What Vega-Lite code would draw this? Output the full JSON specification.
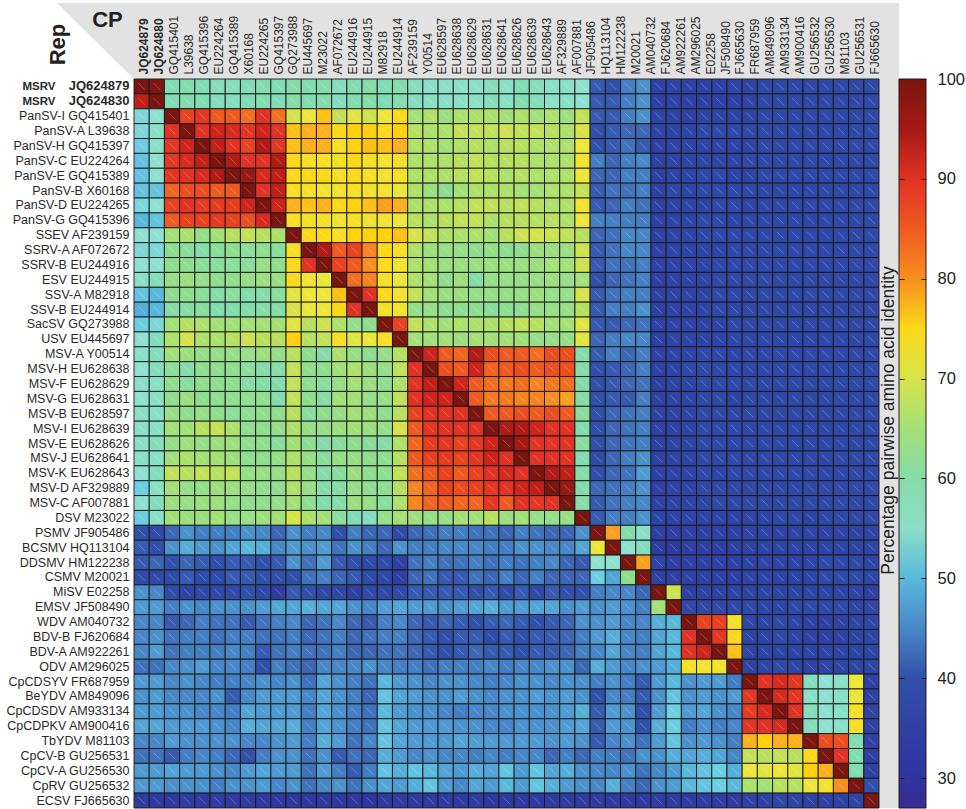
{"$schema":"https://vega.github.io/schema/vega-lite/v6.json","width":745,"height":729,"autosize":"none","padding":{"left":134,"top":79,"right":87,"bottom":1},"background":"white","config":{"view":{"stroke":null},"font":"Liberation Sans","axis":{"domain":false,"ticks":false,"grid":false,"labelFont":"Liberation Sans","titleFont":"Liberation Sans"}},"datasets":{"cells":[
{"r":0,"c":0,"v":100},{"r":0,"c":1,"v":99},{"r":0,"c":2,"v":57},{"r":0,"c":3,"v":58},{"r":0,"c":4,"v":57},{"r":0,"c":5,"v":56},{"r":0,"c":6,"v":56},{"r":0,"c":7,"v":57},{"r":0,"c":8,"v":58},{"r":0,"c":9,"v":57},{"r":0,"c":10,"v":60},{"r":0,"c":11,"v":58},{"r":0,"c":12,"v":58},{"r":0,"c":13,"v":56},{"r":0,"c":14,"v":58},{"r":0,"c":15,"v":60},{"r":0,"c":16,"v":57},{"r":0,"c":17,"v":58},{"r":0,"c":18,"v":56},{"r":0,"c":19,"v":55},{"r":0,"c":20,"v":55},{"r":0,"c":21,"v":55},{"r":0,"c":22,"v":55},{"r":0,"c":23,"v":56},{"r":0,"c":24,"v":55},{"r":0,"c":25,"v":57},{"r":0,"c":26,"v":56},{"r":0,"c":27,"v":55},{"r":0,"c":28,"v":55},{"r":0,"c":29,"v":54},{"r":0,"c":30,"v":41},{"r":0,"c":31,"v":40},{"r":0,"c":32,"v":44},{"r":0,"c":33,"v":46},{"r":0,"c":34,"v":36},{"r":0,"c":35,"v":37},{"r":0,"c":36,"v":36},{"r":0,"c":37,"v":36},{"r":0,"c":38,"v":36},{"r":0,"c":39,"v":37},{"r":0,"c":40,"v":37},{"r":0,"c":41,"v":38},{"r":0,"c":42,"v":38},{"r":0,"c":43,"v":38},{"r":0,"c":44,"v":38},{"r":0,"c":45,"v":38},{"r":0,"c":46,"v":38},{"r":0,"c":47,"v":38},{"r":0,"c":48,"v":38},
{"r":1,"c":0,"v":93},{"r":1,"c":1,"v":100},{"r":1,"c":2,"v":57},{"r":1,"c":3,"v":58},{"r":1,"c":4,"v":57},{"r":1,"c":5,"v":56},{"r":1,"c":6,"v":56},{"r":1,"c":7,"v":57},{"r":1,"c":8,"v":58},{"r":1,"c":9,"v":57},{"r":1,"c":10,"v":60},{"r":1,"c":11,"v":58},{"r":1,"c":12,"v":58},{"r":1,"c":13,"v":56},{"r":1,"c":14,"v":58},{"r":1,"c":15,"v":60},{"r":1,"c":16,"v":57},{"r":1,"c":17,"v":58},{"r":1,"c":18,"v":56},{"r":1,"c":19,"v":55},{"r":1,"c":20,"v":55},{"r":1,"c":21,"v":55},{"r":1,"c":22,"v":55},{"r":1,"c":23,"v":56},{"r":1,"c":24,"v":55},{"r":1,"c":25,"v":57},{"r":1,"c":26,"v":56},{"r":1,"c":27,"v":55},{"r":1,"c":28,"v":55},{"r":1,"c":29,"v":54},{"r":1,"c":30,"v":41},{"r":1,"c":31,"v":41},{"r":1,"c":32,"v":44},{"r":1,"c":33,"v":46},{"r":1,"c":34,"v":36},{"r":1,"c":35,"v":37},{"r":1,"c":36,"v":36},{"r":1,"c":37,"v":36},{"r":1,"c":38,"v":36},{"r":1,"c":39,"v":36},{"r":1,"c":40,"v":37},{"r":1,"c":41,"v":38},{"r":1,"c":42,"v":38},{"r":1,"c":43,"v":38},{"r":1,"c":44,"v":38},{"r":1,"c":45,"v":38},{"r":1,"c":46,"v":38},{"r":1,"c":47,"v":38},{"r":1,"c":48,"v":38},
{"r":2,"c":0,"v":53},{"r":2,"c":1,"v":54},{"r":2,"c":2,"v":100},{"r":2,"c":3,"v":87},{"r":2,"c":4,"v":89},{"r":2,"c":5,"v":85},{"r":2,"c":6,"v":85},{"r":2,"c":7,"v":83},{"r":2,"c":8,"v":90},{"r":2,"c":9,"v":83},{"r":2,"c":10,"v":70},{"r":2,"c":11,"v":72},{"r":2,"c":12,"v":77},{"r":2,"c":13,"v":68},{"r":2,"c":14,"v":71},{"r":2,"c":15,"v":69},{"r":2,"c":16,"v":72},{"r":2,"c":17,"v":75},{"r":2,"c":18,"v":65},{"r":2,"c":19,"v":66},{"r":2,"c":20,"v":64},{"r":2,"c":21,"v":66},{"r":2,"c":22,"v":66},{"r":2,"c":23,"v":66},{"r":2,"c":24,"v":65},{"r":2,"c":25,"v":66},{"r":2,"c":26,"v":65},{"r":2,"c":27,"v":66},{"r":2,"c":28,"v":64},{"r":2,"c":29,"v":68},{"r":2,"c":30,"v":41},{"r":2,"c":31,"v":41},{"r":2,"c":32,"v":44},{"r":2,"c":33,"v":46},{"r":2,"c":34,"v":37},{"r":2,"c":35,"v":37},{"r":2,"c":36,"v":36},{"r":2,"c":37,"v":37},{"r":2,"c":38,"v":37},{"r":2,"c":39,"v":37},{"r":2,"c":40,"v":37},{"r":2,"c":41,"v":38},{"r":2,"c":42,"v":38},{"r":2,"c":43,"v":38},{"r":2,"c":44,"v":38},{"r":2,"c":45,"v":38},{"r":2,"c":46,"v":38},{"r":2,"c":47,"v":38},{"r":2,"c":48,"v":38},
{"r":3,"c":0,"v":53},{"r":3,"c":1,"v":55},{"r":3,"c":2,"v":90},{"r":3,"c":3,"v":100},{"r":3,"c":4,"v":90},{"r":3,"c":5,"v":92},{"r":3,"c":6,"v":91},{"r":3,"c":7,"v":89},{"r":3,"c":8,"v":92},{"r":3,"c":9,"v":90},{"r":3,"c":10,"v":77},{"r":3,"c":11,"v":78},{"r":3,"c":12,"v":78},{"r":3,"c":13,"v":75},{"r":3,"c":14,"v":76},{"r":3,"c":15,"v":76},{"r":3,"c":16,"v":75},{"r":3,"c":17,"v":76},{"r":3,"c":18,"v":67},{"r":3,"c":19,"v":66},{"r":3,"c":20,"v":66},{"r":3,"c":21,"v":68},{"r":3,"c":22,"v":68},{"r":3,"c":23,"v":68},{"r":3,"c":24,"v":69},{"r":3,"c":25,"v":68},{"r":3,"c":26,"v":68},{"r":3,"c":27,"v":67},{"r":3,"c":28,"v":66},{"r":3,"c":29,"v":70},{"r":3,"c":30,"v":40},{"r":3,"c":31,"v":41},{"r":3,"c":32,"v":42},{"r":3,"c":33,"v":42},{"r":3,"c":34,"v":37},{"r":3,"c":35,"v":37},{"r":3,"c":36,"v":37},{"r":3,"c":37,"v":38},{"r":3,"c":38,"v":38},{"r":3,"c":39,"v":38},{"r":3,"c":40,"v":38},{"r":3,"c":41,"v":38},{"r":3,"c":42,"v":38},{"r":3,"c":43,"v":38},{"r":3,"c":44,"v":38},{"r":3,"c":45,"v":38},{"r":3,"c":46,"v":38},{"r":3,"c":47,"v":38},{"r":3,"c":48,"v":38},
{"r":4,"c":0,"v":52},{"r":4,"c":1,"v":55},{"r":4,"c":2,"v":89},{"r":4,"c":3,"v":92},{"r":4,"c":4,"v":100},{"r":4,"c":5,"v":93},{"r":4,"c":6,"v":90},{"r":4,"c":7,"v":87},{"r":4,"c":8,"v":94},{"r":4,"c":9,"v":89},{"r":4,"c":10,"v":77},{"r":4,"c":11,"v":78},{"r":4,"c":12,"v":78},{"r":4,"c":13,"v":74},{"r":4,"c":14,"v":76},{"r":4,"c":15,"v":77},{"r":4,"c":16,"v":77},{"r":4,"c":17,"v":78},{"r":4,"c":18,"v":66},{"r":4,"c":19,"v":66},{"r":4,"c":20,"v":65},{"r":4,"c":21,"v":66},{"r":4,"c":22,"v":67},{"r":4,"c":23,"v":66},{"r":4,"c":24,"v":67},{"r":4,"c":25,"v":67},{"r":4,"c":26,"v":66},{"r":4,"c":27,"v":66},{"r":4,"c":28,"v":66},{"r":4,"c":29,"v":72},{"r":4,"c":30,"v":40},{"r":4,"c":31,"v":41},{"r":4,"c":32,"v":43},{"r":4,"c":33,"v":41},{"r":4,"c":34,"v":36},{"r":4,"c":35,"v":37},{"r":4,"c":36,"v":37},{"r":4,"c":37,"v":37},{"r":4,"c":38,"v":37},{"r":4,"c":39,"v":37},{"r":4,"c":40,"v":37},{"r":4,"c":41,"v":38},{"r":4,"c":42,"v":38},{"r":4,"c":43,"v":38},{"r":4,"c":44,"v":38},{"r":4,"c":45,"v":38},{"r":4,"c":46,"v":38},{"r":4,"c":47,"v":38},{"r":4,"c":48,"v":38},
{"r":5,"c":0,"v":51},{"r":5,"c":1,"v":54},{"r":5,"c":2,"v":89},{"r":5,"c":3,"v":91},{"r":5,"c":4,"v":93},{"r":5,"c":5,"v":100},{"r":5,"c":6,"v":94},{"r":5,"c":7,"v":90},{"r":5,"c":8,"v":90},{"r":5,"c":9,"v":94},{"r":5,"c":10,"v":75},{"r":5,"c":11,"v":74},{"r":5,"c":12,"v":74},{"r":5,"c":13,"v":74},{"r":5,"c":14,"v":75},{"r":5,"c":15,"v":74},{"r":5,"c":16,"v":73},{"r":5,"c":17,"v":74},{"r":5,"c":18,"v":66},{"r":5,"c":19,"v":66},{"r":5,"c":20,"v":66},{"r":5,"c":21,"v":67},{"r":5,"c":22,"v":68},{"r":5,"c":23,"v":67},{"r":5,"c":24,"v":67},{"r":5,"c":25,"v":67},{"r":5,"c":26,"v":66},{"r":5,"c":27,"v":66},{"r":5,"c":28,"v":66},{"r":5,"c":29,"v":73},{"r":5,"c":30,"v":44},{"r":5,"c":31,"v":42},{"r":5,"c":32,"v":44},{"r":5,"c":33,"v":45},{"r":5,"c":34,"v":36},{"r":5,"c":35,"v":37},{"r":5,"c":36,"v":37},{"r":5,"c":37,"v":37},{"r":5,"c":38,"v":37},{"r":5,"c":39,"v":37},{"r":5,"c":40,"v":38},{"r":5,"c":41,"v":38},{"r":5,"c":42,"v":38},{"r":5,"c":43,"v":38},{"r":5,"c":44,"v":38},{"r":5,"c":45,"v":38},{"r":5,"c":46,"v":38},{"r":5,"c":47,"v":38},{"r":5,"c":48,"v":38},
{"r":6,"c":0,"v":51},{"r":6,"c":1,"v":54},{"r":6,"c":2,"v":89},{"r":6,"c":3,"v":90},{"r":6,"c":4,"v":91},{"r":6,"c":5,"v":94},{"r":6,"c":6,"v":100},{"r":6,"c":7,"v":96},{"r":6,"c":8,"v":91},{"r":6,"c":9,"v":93},{"r":6,"c":10,"v":75},{"r":6,"c":11,"v":75},{"r":6,"c":12,"v":75},{"r":6,"c":13,"v":74},{"r":6,"c":14,"v":75},{"r":6,"c":15,"v":74},{"r":6,"c":16,"v":73},{"r":6,"c":17,"v":74},{"r":6,"c":18,"v":66},{"r":6,"c":19,"v":66},{"r":6,"c":20,"v":66},{"r":6,"c":21,"v":67},{"r":6,"c":22,"v":68},{"r":6,"c":23,"v":67},{"r":6,"c":24,"v":66},{"r":6,"c":25,"v":67},{"r":6,"c":26,"v":66},{"r":6,"c":27,"v":66},{"r":6,"c":28,"v":66},{"r":6,"c":29,"v":72},{"r":6,"c":30,"v":42},{"r":6,"c":31,"v":42},{"r":6,"c":32,"v":44},{"r":6,"c":33,"v":44},{"r":6,"c":34,"v":36},{"r":6,"c":35,"v":37},{"r":6,"c":36,"v":37},{"r":6,"c":37,"v":38},{"r":6,"c":38,"v":38},{"r":6,"c":39,"v":37},{"r":6,"c":40,"v":37},{"r":6,"c":41,"v":38},{"r":6,"c":42,"v":38},{"r":6,"c":43,"v":38},{"r":6,"c":44,"v":38},{"r":6,"c":45,"v":38},{"r":6,"c":46,"v":38},{"r":6,"c":47,"v":38},{"r":6,"c":48,"v":38},
{"r":7,"c":0,"v":51},{"r":7,"c":1,"v":51},{"r":7,"c":2,"v":84},{"r":7,"c":3,"v":86},{"r":7,"c":4,"v":86},{"r":7,"c":5,"v":85},{"r":7,"c":6,"v":85},{"r":7,"c":7,"v":100},{"r":7,"c":8,"v":90},{"r":7,"c":9,"v":93},{"r":7,"c":10,"v":74},{"r":7,"c":11,"v":74},{"r":7,"c":12,"v":73},{"r":7,"c":13,"v":73},{"r":7,"c":14,"v":74},{"r":7,"c":15,"v":73},{"r":7,"c":16,"v":73},{"r":7,"c":17,"v":72},{"r":7,"c":18,"v":66},{"r":7,"c":19,"v":64},{"r":7,"c":20,"v":62},{"r":7,"c":21,"v":65},{"r":7,"c":22,"v":66},{"r":7,"c":23,"v":66},{"r":7,"c":24,"v":66},{"r":7,"c":25,"v":65},{"r":7,"c":26,"v":65},{"r":7,"c":27,"v":66},{"r":7,"c":28,"v":66},{"r":7,"c":29,"v":68},{"r":7,"c":30,"v":41},{"r":7,"c":31,"v":43},{"r":7,"c":32,"v":43},{"r":7,"c":33,"v":44},{"r":7,"c":34,"v":36},{"r":7,"c":35,"v":38},{"r":7,"c":36,"v":37},{"r":7,"c":37,"v":38},{"r":7,"c":38,"v":38},{"r":7,"c":39,"v":38},{"r":7,"c":40,"v":38},{"r":7,"c":41,"v":38},{"r":7,"c":42,"v":38},{"r":7,"c":43,"v":38},{"r":7,"c":44,"v":38},{"r":7,"c":45,"v":38},{"r":7,"c":46,"v":38},{"r":7,"c":47,"v":38},{"r":7,"c":48,"v":38},
{"r":8,"c":0,"v":53},{"r":8,"c":1,"v":54},{"r":8,"c":2,"v":87},{"r":8,"c":3,"v":90},{"r":8,"c":4,"v":88},{"r":8,"c":5,"v":88},{"r":8,"c":6,"v":88},{"r":8,"c":7,"v":92},{"r":8,"c":8,"v":100},{"r":8,"c":9,"v":92},{"r":8,"c":10,"v":78},{"r":8,"c":11,"v":77},{"r":8,"c":12,"v":78},{"r":8,"c":13,"v":75},{"r":8,"c":14,"v":76},{"r":8,"c":15,"v":77},{"r":8,"c":16,"v":79},{"r":8,"c":17,"v":78},{"r":8,"c":18,"v":66},{"r":8,"c":19,"v":66},{"r":8,"c":20,"v":66},{"r":8,"c":21,"v":67},{"r":8,"c":22,"v":68},{"r":8,"c":23,"v":68},{"r":8,"c":24,"v":67},{"r":8,"c":25,"v":68},{"r":8,"c":26,"v":67},{"r":8,"c":27,"v":66},{"r":8,"c":28,"v":66},{"r":8,"c":29,"v":73},{"r":8,"c":30,"v":41},{"r":8,"c":31,"v":42},{"r":8,"c":32,"v":44},{"r":8,"c":33,"v":43},{"r":8,"c":34,"v":36},{"r":8,"c":35,"v":37},{"r":8,"c":36,"v":37},{"r":8,"c":37,"v":37},{"r":8,"c":38,"v":38},{"r":8,"c":39,"v":38},{"r":8,"c":40,"v":37},{"r":8,"c":41,"v":38},{"r":8,"c":42,"v":38},{"r":8,"c":43,"v":38},{"r":8,"c":44,"v":38},{"r":8,"c":45,"v":38},{"r":8,"c":46,"v":38},{"r":8,"c":47,"v":38},{"r":8,"c":48,"v":38},
{"r":9,"c":0,"v":50},{"r":9,"c":1,"v":51},{"r":9,"c":2,"v":85},{"r":9,"c":3,"v":87},{"r":9,"c":4,"v":87},{"r":9,"c":5,"v":88},{"r":9,"c":6,"v":87},{"r":9,"c":7,"v":86},{"r":9,"c":8,"v":91},{"r":9,"c":9,"v":100},{"r":9,"c":10,"v":74},{"r":9,"c":11,"v":74},{"r":9,"c":12,"v":74},{"r":9,"c":13,"v":73},{"r":9,"c":14,"v":74},{"r":9,"c":15,"v":73},{"r":9,"c":16,"v":73},{"r":9,"c":17,"v":72},{"r":9,"c":18,"v":67},{"r":9,"c":19,"v":66},{"r":9,"c":20,"v":67},{"r":9,"c":21,"v":68},{"r":9,"c":22,"v":68},{"r":9,"c":23,"v":66},{"r":9,"c":24,"v":67},{"r":9,"c":25,"v":67},{"r":9,"c":26,"v":67},{"r":9,"c":27,"v":67},{"r":9,"c":28,"v":66},{"r":9,"c":29,"v":72},{"r":9,"c":30,"v":44},{"r":9,"c":31,"v":44},{"r":9,"c":32,"v":44},{"r":9,"c":33,"v":44},{"r":9,"c":34,"v":36},{"r":9,"c":35,"v":37},{"r":9,"c":36,"v":37},{"r":9,"c":37,"v":38},{"r":9,"c":38,"v":38},{"r":9,"c":39,"v":37},{"r":9,"c":40,"v":38},{"r":9,"c":41,"v":38},{"r":9,"c":42,"v":38},{"r":9,"c":43,"v":38},{"r":9,"c":44,"v":38},{"r":9,"c":45,"v":38},{"r":9,"c":46,"v":38},{"r":9,"c":47,"v":38},{"r":9,"c":48,"v":38},
{"r":10,"c":0,"v":54},{"r":10,"c":1,"v":54},{"r":10,"c":2,"v":65},{"r":10,"c":3,"v":66},{"r":10,"c":4,"v":63},{"r":10,"c":5,"v":65},{"r":10,"c":6,"v":67},{"r":10,"c":7,"v":68},{"r":10,"c":8,"v":67},{"r":10,"c":9,"v":66},{"r":10,"c":10,"v":100},{"r":10,"c":11,"v":75},{"r":10,"c":12,"v":75},{"r":10,"c":13,"v":74},{"r":10,"c":14,"v":76},{"r":10,"c":15,"v":76},{"r":10,"c":16,"v":76},{"r":10,"c":17,"v":77},{"r":10,"c":18,"v":70},{"r":10,"c":19,"v":68},{"r":10,"c":20,"v":66},{"r":10,"c":21,"v":66},{"r":10,"c":22,"v":66},{"r":10,"c":23,"v":65},{"r":10,"c":24,"v":67},{"r":10,"c":25,"v":69},{"r":10,"c":26,"v":70},{"r":10,"c":27,"v":69},{"r":10,"c":28,"v":68},{"r":10,"c":29,"v":67},{"r":10,"c":30,"v":42},{"r":10,"c":31,"v":43},{"r":10,"c":32,"v":45},{"r":10,"c":33,"v":45},{"r":10,"c":34,"v":36},{"r":10,"c":35,"v":37},{"r":10,"c":36,"v":37},{"r":10,"c":37,"v":38},{"r":10,"c":38,"v":38},{"r":10,"c":39,"v":38},{"r":10,"c":40,"v":38},{"r":10,"c":41,"v":38},{"r":10,"c":42,"v":38},{"r":10,"c":43,"v":38},{"r":10,"c":44,"v":38},{"r":10,"c":45,"v":38},{"r":10,"c":46,"v":38},{"r":10,"c":47,"v":38},{"r":10,"c":48,"v":38},
{"r":11,"c":0,"v":53},{"r":11,"c":1,"v":53},{"r":11,"c":2,"v":62},{"r":11,"c":3,"v":61},{"r":11,"c":4,"v":60},{"r":11,"c":5,"v":61},{"r":11,"c":6,"v":62},{"r":11,"c":7,"v":61},{"r":11,"c":8,"v":62},{"r":11,"c":9,"v":61},{"r":11,"c":10,"v":74},{"r":11,"c":11,"v":100},{"r":11,"c":12,"v":94},{"r":11,"c":13,"v":85},{"r":11,"c":14,"v":87},{"r":11,"c":15,"v":81},{"r":11,"c":16,"v":75},{"r":11,"c":17,"v":74},{"r":11,"c":18,"v":66},{"r":11,"c":19,"v":64},{"r":11,"c":20,"v":63},{"r":11,"c":21,"v":63},{"r":11,"c":22,"v":62},{"r":11,"c":23,"v":63},{"r":11,"c":24,"v":62},{"r":11,"c":25,"v":62},{"r":11,"c":26,"v":64},{"r":11,"c":27,"v":64},{"r":11,"c":28,"v":64},{"r":11,"c":29,"v":69},{"r":11,"c":30,"v":41},{"r":11,"c":31,"v":43},{"r":11,"c":32,"v":45},{"r":11,"c":33,"v":45},{"r":11,"c":34,"v":36},{"r":11,"c":35,"v":37},{"r":11,"c":36,"v":37},{"r":11,"c":37,"v":37},{"r":11,"c":38,"v":37},{"r":11,"c":39,"v":38},{"r":11,"c":40,"v":38},{"r":11,"c":41,"v":38},{"r":11,"c":42,"v":38},{"r":11,"c":43,"v":38},{"r":11,"c":44,"v":38},{"r":11,"c":45,"v":38},{"r":11,"c":46,"v":38},{"r":11,"c":47,"v":38},{"r":11,"c":48,"v":38},
{"r":12,"c":0,"v":54},{"r":12,"c":1,"v":54},{"r":12,"c":2,"v":62},{"r":12,"c":3,"v":62},{"r":12,"c":4,"v":61},{"r":12,"c":5,"v":61},{"r":12,"c":6,"v":61},{"r":12,"c":7,"v":61},{"r":12,"c":8,"v":63},{"r":12,"c":9,"v":62},{"r":12,"c":10,"v":75},{"r":12,"c":11,"v":90},{"r":12,"c":12,"v":100},{"r":12,"c":13,"v":87},{"r":12,"c":14,"v":85},{"r":12,"c":15,"v":80},{"r":12,"c":16,"v":75},{"r":12,"c":17,"v":73},{"r":12,"c":18,"v":66},{"r":12,"c":19,"v":65},{"r":12,"c":20,"v":64},{"r":12,"c":21,"v":64},{"r":12,"c":22,"v":64},{"r":12,"c":23,"v":64},{"r":12,"c":24,"v":64},{"r":12,"c":25,"v":64},{"r":12,"c":26,"v":64},{"r":12,"c":27,"v":65},{"r":12,"c":28,"v":65},{"r":12,"c":29,"v":69},{"r":12,"c":30,"v":41},{"r":12,"c":31,"v":43},{"r":12,"c":32,"v":43},{"r":12,"c":33,"v":44},{"r":12,"c":34,"v":36},{"r":12,"c":35,"v":37},{"r":12,"c":36,"v":37},{"r":12,"c":37,"v":37},{"r":12,"c":38,"v":38},{"r":12,"c":39,"v":38},{"r":12,"c":40,"v":38},{"r":12,"c":41,"v":38},{"r":12,"c":42,"v":38},{"r":12,"c":43,"v":38},{"r":12,"c":44,"v":38},{"r":12,"c":45,"v":38},{"r":12,"c":46,"v":38},{"r":12,"c":47,"v":38},{"r":12,"c":48,"v":38},
{"r":13,"c":0,"v":55},{"r":13,"c":1,"v":56},{"r":13,"c":2,"v":63},{"r":13,"c":3,"v":64},{"r":13,"c":4,"v":63},{"r":13,"c":5,"v":62},{"r":13,"c":6,"v":62},{"r":13,"c":7,"v":63},{"r":13,"c":8,"v":64},{"r":13,"c":9,"v":63},{"r":13,"c":10,"v":75},{"r":13,"c":11,"v":73},{"r":13,"c":12,"v":72},{"r":13,"c":13,"v":100},{"r":13,"c":14,"v":83},{"r":13,"c":15,"v":81},{"r":13,"c":16,"v":74},{"r":13,"c":17,"v":72},{"r":13,"c":18,"v":66},{"r":13,"c":19,"v":65},{"r":13,"c":20,"v":62},{"r":13,"c":21,"v":64},{"r":13,"c":22,"v":60},{"r":13,"c":23,"v":63},{"r":13,"c":24,"v":63},{"r":13,"c":25,"v":63},{"r":13,"c":26,"v":63},{"r":13,"c":27,"v":64},{"r":13,"c":28,"v":63},{"r":13,"c":29,"v":65},{"r":13,"c":30,"v":40},{"r":13,"c":31,"v":42},{"r":13,"c":32,"v":43},{"r":13,"c":33,"v":44},{"r":13,"c":34,"v":36},{"r":13,"c":35,"v":37},{"r":13,"c":36,"v":37},{"r":13,"c":37,"v":37},{"r":13,"c":38,"v":38},{"r":13,"c":39,"v":38},{"r":13,"c":40,"v":38},{"r":13,"c":41,"v":38},{"r":13,"c":42,"v":38},{"r":13,"c":43,"v":38},{"r":13,"c":44,"v":38},{"r":13,"c":45,"v":38},{"r":13,"c":46,"v":38},{"r":13,"c":47,"v":38},{"r":13,"c":48,"v":38},
{"r":14,"c":0,"v":51},{"r":14,"c":1,"v":50},{"r":14,"c":2,"v":62},{"r":14,"c":3,"v":62},{"r":14,"c":4,"v":61},{"r":14,"c":5,"v":60},{"r":14,"c":6,"v":61},{"r":14,"c":7,"v":59},{"r":14,"c":8,"v":60},{"r":14,"c":9,"v":61},{"r":14,"c":10,"v":71},{"r":14,"c":11,"v":72},{"r":14,"c":12,"v":72},{"r":14,"c":13,"v":77},{"r":14,"c":14,"v":100},{"r":14,"c":15,"v":90},{"r":14,"c":16,"v":75},{"r":14,"c":17,"v":73},{"r":14,"c":18,"v":68},{"r":14,"c":19,"v":65},{"r":14,"c":20,"v":64},{"r":14,"c":21,"v":64},{"r":14,"c":22,"v":63},{"r":14,"c":23,"v":63},{"r":14,"c":24,"v":63},{"r":14,"c":25,"v":63},{"r":14,"c":26,"v":64},{"r":14,"c":27,"v":63},{"r":14,"c":28,"v":63},{"r":14,"c":29,"v":70},{"r":14,"c":30,"v":41},{"r":14,"c":31,"v":43},{"r":14,"c":32,"v":44},{"r":14,"c":33,"v":44},{"r":14,"c":34,"v":36},{"r":14,"c":35,"v":37},{"r":14,"c":36,"v":37},{"r":14,"c":37,"v":37},{"r":14,"c":38,"v":38},{"r":14,"c":39,"v":38},{"r":14,"c":40,"v":38},{"r":14,"c":41,"v":38},{"r":14,"c":42,"v":38},{"r":14,"c":43,"v":38},{"r":14,"c":44,"v":38},{"r":14,"c":45,"v":38},{"r":14,"c":46,"v":38},{"r":14,"c":47,"v":38},{"r":14,"c":48,"v":38},
{"r":15,"c":0,"v":49},{"r":15,"c":1,"v":50},{"r":15,"c":2,"v":60},{"r":15,"c":3,"v":60},{"r":15,"c":4,"v":61},{"r":15,"c":5,"v":59},{"r":15,"c":6,"v":59},{"r":15,"c":7,"v":59},{"r":15,"c":8,"v":60},{"r":15,"c":9,"v":60},{"r":15,"c":10,"v":70},{"r":15,"c":11,"v":72},{"r":15,"c":12,"v":72},{"r":15,"c":13,"v":75},{"r":15,"c":14,"v":90},{"r":15,"c":15,"v":100},{"r":15,"c":16,"v":74},{"r":15,"c":17,"v":73},{"r":15,"c":18,"v":63},{"r":15,"c":19,"v":63},{"r":15,"c":20,"v":62},{"r":15,"c":21,"v":62},{"r":15,"c":22,"v":62},{"r":15,"c":23,"v":61},{"r":15,"c":24,"v":62},{"r":15,"c":25,"v":62},{"r":15,"c":26,"v":63},{"r":15,"c":27,"v":63},{"r":15,"c":28,"v":63},{"r":15,"c":29,"v":67},{"r":15,"c":30,"v":41},{"r":15,"c":31,"v":44},{"r":15,"c":32,"v":44},{"r":15,"c":33,"v":46},{"r":15,"c":34,"v":36},{"r":15,"c":35,"v":37},{"r":15,"c":36,"v":37},{"r":15,"c":37,"v":37},{"r":15,"c":38,"v":38},{"r":15,"c":39,"v":38},{"r":15,"c":40,"v":38},{"r":15,"c":41,"v":38},{"r":15,"c":42,"v":38},{"r":15,"c":43,"v":38},{"r":15,"c":44,"v":38},{"r":15,"c":45,"v":38},{"r":15,"c":46,"v":38},{"r":15,"c":47,"v":38},{"r":15,"c":48,"v":38},
{"r":16,"c":0,"v":52},{"r":16,"c":1,"v":53},{"r":16,"c":2,"v":65},{"r":16,"c":3,"v":67},{"r":16,"c":4,"v":66},{"r":16,"c":5,"v":65},{"r":16,"c":6,"v":65},{"r":16,"c":7,"v":65},{"r":16,"c":8,"v":65},{"r":16,"c":9,"v":65},{"r":16,"c":10,"v":71},{"r":16,"c":11,"v":67},{"r":16,"c":12,"v":69},{"r":16,"c":13,"v":66},{"r":16,"c":14,"v":63},{"r":16,"c":15,"v":62},{"r":16,"c":16,"v":100},{"r":16,"c":17,"v":87},{"r":16,"c":18,"v":68},{"r":16,"c":19,"v":66},{"r":16,"c":20,"v":65},{"r":16,"c":21,"v":66},{"r":16,"c":22,"v":66},{"r":16,"c":23,"v":66},{"r":16,"c":24,"v":67},{"r":16,"c":25,"v":68},{"r":16,"c":26,"v":67},{"r":16,"c":27,"v":65},{"r":16,"c":28,"v":65},{"r":16,"c":29,"v":71},{"r":16,"c":30,"v":41},{"r":16,"c":31,"v":41},{"r":16,"c":32,"v":42},{"r":16,"c":33,"v":43},{"r":16,"c":34,"v":36},{"r":16,"c":35,"v":37},{"r":16,"c":36,"v":37},{"r":16,"c":37,"v":37},{"r":16,"c":38,"v":37},{"r":16,"c":39,"v":38},{"r":16,"c":40,"v":38},{"r":16,"c":41,"v":38},{"r":16,"c":42,"v":38},{"r":16,"c":43,"v":38},{"r":16,"c":44,"v":38},{"r":16,"c":45,"v":38},{"r":16,"c":46,"v":38},{"r":16,"c":47,"v":38},{"r":16,"c":48,"v":38},
{"r":17,"c":0,"v":54},{"r":17,"c":1,"v":56},{"r":17,"c":2,"v":66},{"r":17,"c":3,"v":70},{"r":17,"c":4,"v":66},{"r":17,"c":5,"v":66},{"r":17,"c":6,"v":67},{"r":17,"c":7,"v":69},{"r":17,"c":8,"v":67},{"r":17,"c":9,"v":67},{"r":17,"c":10,"v":76},{"r":17,"c":11,"v":67},{"r":17,"c":12,"v":68},{"r":17,"c":13,"v":74},{"r":17,"c":14,"v":71},{"r":17,"c":15,"v":72},{"r":17,"c":16,"v":74},{"r":17,"c":17,"v":100},{"r":17,"c":18,"v":65},{"r":17,"c":19,"v":65},{"r":17,"c":20,"v":65},{"r":17,"c":21,"v":64},{"r":17,"c":22,"v":65},{"r":17,"c":23,"v":65},{"r":17,"c":24,"v":65},{"r":17,"c":25,"v":65},{"r":17,"c":26,"v":63},{"r":17,"c":27,"v":63},{"r":17,"c":28,"v":63},{"r":17,"c":29,"v":71},{"r":17,"c":30,"v":42},{"r":17,"c":31,"v":44},{"r":17,"c":32,"v":45},{"r":17,"c":33,"v":45},{"r":17,"c":34,"v":36},{"r":17,"c":35,"v":37},{"r":17,"c":36,"v":37},{"r":17,"c":37,"v":37},{"r":17,"c":38,"v":37},{"r":17,"c":39,"v":38},{"r":17,"c":40,"v":38},{"r":17,"c":41,"v":38},{"r":17,"c":42,"v":38},{"r":17,"c":43,"v":38},{"r":17,"c":44,"v":38},{"r":17,"c":45,"v":38},{"r":17,"c":46,"v":38},{"r":17,"c":47,"v":38},{"r":17,"c":48,"v":38},
{"r":18,"c":0,"v":55},{"r":18,"c":1,"v":56},{"r":18,"c":2,"v":65},{"r":18,"c":3,"v":64},{"r":18,"c":4,"v":63},{"r":18,"c":5,"v":63},{"r":18,"c":6,"v":63},{"r":18,"c":7,"v":63},{"r":18,"c":8,"v":64},{"r":18,"c":9,"v":63},{"r":18,"c":10,"v":67},{"r":18,"c":11,"v":62},{"r":18,"c":12,"v":60},{"r":18,"c":13,"v":66},{"r":18,"c":14,"v":63},{"r":18,"c":15,"v":62},{"r":18,"c":16,"v":63},{"r":18,"c":17,"v":67},{"r":18,"c":18,"v":100},{"r":18,"c":19,"v":92},{"r":18,"c":20,"v":85},{"r":18,"c":21,"v":84},{"r":18,"c":22,"v":94},{"r":18,"c":23,"v":86},{"r":18,"c":24,"v":85},{"r":18,"c":25,"v":85},{"r":18,"c":26,"v":83},{"r":18,"c":27,"v":86},{"r":18,"c":28,"v":86},{"r":18,"c":29,"v":60},{"r":18,"c":30,"v":41},{"r":18,"c":31,"v":44},{"r":18,"c":32,"v":42},{"r":18,"c":33,"v":44},{"r":18,"c":34,"v":36},{"r":18,"c":35,"v":37},{"r":18,"c":36,"v":37},{"r":18,"c":37,"v":38},{"r":18,"c":38,"v":38},{"r":18,"c":39,"v":37},{"r":18,"c":40,"v":38},{"r":18,"c":41,"v":38},{"r":18,"c":42,"v":38},{"r":18,"c":43,"v":38},{"r":18,"c":44,"v":38},{"r":18,"c":45,"v":38},{"r":18,"c":46,"v":38},{"r":18,"c":47,"v":38},{"r":18,"c":48,"v":38},
{"r":19,"c":0,"v":54},{"r":19,"c":1,"v":56},{"r":19,"c":2,"v":61},{"r":19,"c":3,"v":60},{"r":19,"c":4,"v":62},{"r":19,"c":5,"v":62},{"r":19,"c":6,"v":62},{"r":19,"c":7,"v":61},{"r":19,"c":8,"v":60},{"r":19,"c":9,"v":60},{"r":19,"c":10,"v":68},{"r":19,"c":11,"v":62},{"r":19,"c":12,"v":62},{"r":19,"c":13,"v":65},{"r":19,"c":14,"v":66},{"r":19,"c":15,"v":64},{"r":19,"c":16,"v":63},{"r":19,"c":17,"v":68},{"r":19,"c":18,"v":90},{"r":19,"c":19,"v":100},{"r":19,"c":20,"v":86},{"r":19,"c":21,"v":85},{"r":19,"c":22,"v":92},{"r":19,"c":23,"v":84},{"r":19,"c":24,"v":85},{"r":19,"c":25,"v":86},{"r":19,"c":26,"v":85},{"r":19,"c":27,"v":86},{"r":19,"c":28,"v":86},{"r":19,"c":29,"v":60},{"r":19,"c":30,"v":40},{"r":19,"c":31,"v":41},{"r":19,"c":32,"v":42},{"r":19,"c":33,"v":44},{"r":19,"c":34,"v":36},{"r":19,"c":35,"v":37},{"r":19,"c":36,"v":38},{"r":19,"c":37,"v":38},{"r":19,"c":38,"v":38},{"r":19,"c":39,"v":38},{"r":19,"c":40,"v":38},{"r":19,"c":41,"v":38},{"r":19,"c":42,"v":38},{"r":19,"c":43,"v":38},{"r":19,"c":44,"v":38},{"r":19,"c":45,"v":38},{"r":19,"c":46,"v":38},{"r":19,"c":47,"v":38},{"r":19,"c":48,"v":38},
{"r":20,"c":0,"v":55},{"r":20,"c":1,"v":55},{"r":20,"c":2,"v":62},{"r":20,"c":3,"v":61},{"r":20,"c":4,"v":62},{"r":20,"c":5,"v":62},{"r":20,"c":6,"v":62},{"r":20,"c":7,"v":60},{"r":20,"c":8,"v":60},{"r":20,"c":9,"v":58},{"r":20,"c":10,"v":68},{"r":20,"c":11,"v":62},{"r":20,"c":12,"v":61},{"r":20,"c":13,"v":63},{"r":20,"c":14,"v":65},{"r":20,"c":15,"v":64},{"r":20,"c":16,"v":62},{"r":20,"c":17,"v":66},{"r":20,"c":18,"v":90},{"r":20,"c":19,"v":93},{"r":20,"c":20,"v":100},{"r":20,"c":21,"v":92},{"r":20,"c":22,"v":85},{"r":20,"c":23,"v":83},{"r":20,"c":24,"v":82},{"r":20,"c":25,"v":83},{"r":20,"c":26,"v":81},{"r":20,"c":27,"v":82},{"r":20,"c":28,"v":83},{"r":20,"c":29,"v":59},{"r":20,"c":30,"v":40},{"r":20,"c":31,"v":41},{"r":20,"c":32,"v":42},{"r":20,"c":33,"v":43},{"r":20,"c":34,"v":36},{"r":20,"c":35,"v":37},{"r":20,"c":36,"v":37},{"r":20,"c":37,"v":38},{"r":20,"c":38,"v":38},{"r":20,"c":39,"v":38},{"r":20,"c":40,"v":38},{"r":20,"c":41,"v":38},{"r":20,"c":42,"v":38},{"r":20,"c":43,"v":38},{"r":20,"c":44,"v":38},{"r":20,"c":45,"v":38},{"r":20,"c":46,"v":38},{"r":20,"c":47,"v":38},{"r":20,"c":48,"v":38},
{"r":21,"c":0,"v":54},{"r":21,"c":1,"v":55},{"r":21,"c":2,"v":62},{"r":21,"c":3,"v":64},{"r":21,"c":4,"v":62},{"r":21,"c":5,"v":62},{"r":21,"c":6,"v":62},{"r":21,"c":7,"v":62},{"r":21,"c":8,"v":62},{"r":21,"c":9,"v":59},{"r":21,"c":10,"v":68},{"r":21,"c":11,"v":62},{"r":21,"c":12,"v":60},{"r":21,"c":13,"v":65},{"r":21,"c":14,"v":65},{"r":21,"c":15,"v":63},{"r":21,"c":16,"v":63},{"r":21,"c":17,"v":68},{"r":21,"c":18,"v":90},{"r":21,"c":19,"v":92},{"r":21,"c":20,"v":92},{"r":21,"c":21,"v":100},{"r":21,"c":22,"v":85},{"r":21,"c":23,"v":82},{"r":21,"c":24,"v":82},{"r":21,"c":25,"v":81},{"r":21,"c":26,"v":81},{"r":21,"c":27,"v":80},{"r":21,"c":28,"v":79},{"r":21,"c":29,"v":60},{"r":21,"c":30,"v":40},{"r":21,"c":31,"v":41},{"r":21,"c":32,"v":41},{"r":21,"c":33,"v":44},{"r":21,"c":34,"v":36},{"r":21,"c":35,"v":37},{"r":21,"c":36,"v":37},{"r":21,"c":37,"v":38},{"r":21,"c":38,"v":38},{"r":21,"c":39,"v":37},{"r":21,"c":40,"v":38},{"r":21,"c":41,"v":38},{"r":21,"c":42,"v":38},{"r":21,"c":43,"v":38},{"r":21,"c":44,"v":38},{"r":21,"c":45,"v":38},{"r":21,"c":46,"v":38},{"r":21,"c":47,"v":38},{"r":21,"c":48,"v":38},
{"r":22,"c":0,"v":55},{"r":22,"c":1,"v":55},{"r":22,"c":2,"v":63},{"r":22,"c":3,"v":62},{"r":22,"c":4,"v":63},{"r":22,"c":5,"v":62},{"r":22,"c":6,"v":61},{"r":22,"c":7,"v":62},{"r":22,"c":8,"v":62},{"r":22,"c":9,"v":62},{"r":22,"c":10,"v":67},{"r":22,"c":11,"v":61},{"r":22,"c":12,"v":62},{"r":22,"c":13,"v":63},{"r":22,"c":14,"v":65},{"r":22,"c":15,"v":64},{"r":22,"c":16,"v":62},{"r":22,"c":17,"v":67},{"r":22,"c":18,"v":87},{"r":22,"c":19,"v":90},{"r":22,"c":20,"v":90},{"r":22,"c":21,"v":90},{"r":22,"c":22,"v":100},{"r":22,"c":23,"v":85},{"r":22,"c":24,"v":85},{"r":22,"c":25,"v":86},{"r":22,"c":26,"v":85},{"r":22,"c":27,"v":86},{"r":22,"c":28,"v":85},{"r":22,"c":29,"v":61},{"r":22,"c":30,"v":40},{"r":22,"c":31,"v":42},{"r":22,"c":32,"v":43},{"r":22,"c":33,"v":44},{"r":22,"c":34,"v":37},{"r":22,"c":35,"v":37},{"r":22,"c":36,"v":37},{"r":22,"c":37,"v":38},{"r":22,"c":38,"v":38},{"r":22,"c":39,"v":38},{"r":22,"c":40,"v":38},{"r":22,"c":41,"v":38},{"r":22,"c":42,"v":38},{"r":22,"c":43,"v":38},{"r":22,"c":44,"v":38},{"r":22,"c":45,"v":38},{"r":22,"c":46,"v":38},{"r":22,"c":47,"v":38},{"r":22,"c":48,"v":38},
{"r":23,"c":0,"v":55},{"r":23,"c":1,"v":55},{"r":23,"c":2,"v":65},{"r":23,"c":3,"v":65},{"r":23,"c":4,"v":67},{"r":23,"c":5,"v":68},{"r":23,"c":6,"v":66},{"r":23,"c":7,"v":62},{"r":23,"c":8,"v":62},{"r":23,"c":9,"v":63},{"r":23,"c":10,"v":66},{"r":23,"c":11,"v":63},{"r":23,"c":12,"v":63},{"r":23,"c":13,"v":64},{"r":23,"c":14,"v":65},{"r":23,"c":15,"v":64},{"r":23,"c":16,"v":63},{"r":23,"c":17,"v":70},{"r":23,"c":18,"v":85},{"r":23,"c":19,"v":89},{"r":23,"c":20,"v":90},{"r":23,"c":21,"v":90},{"r":23,"c":22,"v":90},{"r":23,"c":23,"v":100},{"r":23,"c":24,"v":94},{"r":23,"c":25,"v":94},{"r":23,"c":26,"v":92},{"r":23,"c":27,"v":90},{"r":23,"c":28,"v":90},{"r":23,"c":29,"v":58},{"r":23,"c":30,"v":40},{"r":23,"c":31,"v":42},{"r":23,"c":32,"v":43},{"r":23,"c":33,"v":44},{"r":23,"c":34,"v":36},{"r":23,"c":35,"v":37},{"r":23,"c":36,"v":37},{"r":23,"c":37,"v":38},{"r":23,"c":38,"v":38},{"r":23,"c":39,"v":38},{"r":23,"c":40,"v":38},{"r":23,"c":41,"v":38},{"r":23,"c":42,"v":38},{"r":23,"c":43,"v":38},{"r":23,"c":44,"v":38},{"r":23,"c":45,"v":38},{"r":23,"c":46,"v":38},{"r":23,"c":47,"v":38},{"r":23,"c":48,"v":38},
{"r":24,"c":0,"v":55},{"r":24,"c":1,"v":56},{"r":24,"c":2,"v":63},{"r":24,"c":3,"v":64},{"r":24,"c":4,"v":63},{"r":24,"c":5,"v":64},{"r":24,"c":6,"v":64},{"r":24,"c":7,"v":62},{"r":24,"c":8,"v":62},{"r":24,"c":9,"v":61},{"r":24,"c":10,"v":65},{"r":24,"c":11,"v":62},{"r":24,"c":12,"v":60},{"r":24,"c":13,"v":61},{"r":24,"c":14,"v":62},{"r":24,"c":15,"v":61},{"r":24,"c":16,"v":60},{"r":24,"c":17,"v":66},{"r":24,"c":18,"v":84},{"r":24,"c":19,"v":88},{"r":24,"c":20,"v":89},{"r":24,"c":21,"v":87},{"r":24,"c":22,"v":89},{"r":24,"c":23,"v":92},{"r":24,"c":24,"v":100},{"r":24,"c":25,"v":95},{"r":24,"c":26,"v":90},{"r":24,"c":27,"v":90},{"r":24,"c":28,"v":90},{"r":24,"c":29,"v":61},{"r":24,"c":30,"v":40},{"r":24,"c":31,"v":42},{"r":24,"c":32,"v":43},{"r":24,"c":33,"v":44},{"r":24,"c":34,"v":36},{"r":24,"c":35,"v":37},{"r":24,"c":36,"v":37},{"r":24,"c":37,"v":38},{"r":24,"c":38,"v":38},{"r":24,"c":39,"v":38},{"r":24,"c":40,"v":38},{"r":24,"c":41,"v":38},{"r":24,"c":42,"v":38},{"r":24,"c":43,"v":38},{"r":24,"c":44,"v":38},{"r":24,"c":45,"v":38},{"r":24,"c":46,"v":38},{"r":24,"c":47,"v":38},{"r":24,"c":48,"v":38},
{"r":25,"c":0,"v":55},{"r":25,"c":1,"v":55},{"r":25,"c":2,"v":65},{"r":25,"c":3,"v":66},{"r":25,"c":4,"v":65},{"r":25,"c":5,"v":65},{"r":25,"c":6,"v":64},{"r":25,"c":7,"v":62},{"r":25,"c":8,"v":62},{"r":25,"c":9,"v":63},{"r":25,"c":10,"v":66},{"r":25,"c":11,"v":63},{"r":25,"c":12,"v":61},{"r":25,"c":13,"v":63},{"r":25,"c":14,"v":63},{"r":25,"c":15,"v":62},{"r":25,"c":16,"v":62},{"r":25,"c":17,"v":67},{"r":25,"c":18,"v":85},{"r":25,"c":19,"v":87},{"r":25,"c":20,"v":88},{"r":25,"c":21,"v":87},{"r":25,"c":22,"v":89},{"r":25,"c":23,"v":92},{"r":25,"c":24,"v":90},{"r":25,"c":25,"v":100},{"r":25,"c":26,"v":90},{"r":25,"c":27,"v":90},{"r":25,"c":28,"v":90},{"r":25,"c":29,"v":58},{"r":25,"c":30,"v":39},{"r":25,"c":31,"v":42},{"r":25,"c":32,"v":44},{"r":25,"c":33,"v":46},{"r":25,"c":34,"v":36},{"r":25,"c":35,"v":37},{"r":25,"c":36,"v":37},{"r":25,"c":37,"v":38},{"r":25,"c":38,"v":38},{"r":25,"c":39,"v":38},{"r":25,"c":40,"v":38},{"r":25,"c":41,"v":38},{"r":25,"c":42,"v":38},{"r":25,"c":43,"v":38},{"r":25,"c":44,"v":38},{"r":25,"c":45,"v":38},{"r":25,"c":46,"v":38},{"r":25,"c":47,"v":38},{"r":25,"c":48,"v":38},
{"r":26,"c":0,"v":54},{"r":26,"c":1,"v":56},{"r":26,"c":2,"v":68},{"r":26,"c":3,"v":67},{"r":26,"c":4,"v":68},{"r":26,"c":5,"v":67},{"r":26,"c":6,"v":68},{"r":26,"c":7,"v":63},{"r":26,"c":8,"v":63},{"r":26,"c":9,"v":63},{"r":26,"c":10,"v":67},{"r":26,"c":11,"v":63},{"r":26,"c":12,"v":60},{"r":26,"c":13,"v":61},{"r":26,"c":14,"v":64},{"r":26,"c":15,"v":62},{"r":26,"c":16,"v":62},{"r":26,"c":17,"v":68},{"r":26,"c":18,"v":83},{"r":26,"c":19,"v":85},{"r":26,"c":20,"v":87},{"r":26,"c":21,"v":85},{"r":26,"c":22,"v":87},{"r":26,"c":23,"v":90},{"r":26,"c":24,"v":91},{"r":26,"c":25,"v":90},{"r":26,"c":26,"v":100},{"r":26,"c":27,"v":94},{"r":26,"c":28,"v":93},{"r":26,"c":29,"v":60},{"r":26,"c":30,"v":40},{"r":26,"c":31,"v":42},{"r":26,"c":32,"v":43},{"r":26,"c":33,"v":47},{"r":26,"c":34,"v":36},{"r":26,"c":35,"v":37},{"r":26,"c":36,"v":37},{"r":26,"c":37,"v":38},{"r":26,"c":38,"v":37},{"r":26,"c":39,"v":38},{"r":26,"c":40,"v":38},{"r":26,"c":41,"v":38},{"r":26,"c":42,"v":38},{"r":26,"c":43,"v":38},{"r":26,"c":44,"v":38},{"r":26,"c":45,"v":38},{"r":26,"c":46,"v":38},{"r":26,"c":47,"v":38},{"r":26,"c":48,"v":38},
{"r":27,"c":0,"v":52},{"r":27,"c":1,"v":55},{"r":27,"c":2,"v":65},{"r":27,"c":3,"v":63},{"r":27,"c":4,"v":63},{"r":27,"c":5,"v":64},{"r":27,"c":6,"v":64},{"r":27,"c":7,"v":63},{"r":27,"c":8,"v":62},{"r":27,"c":9,"v":62},{"r":27,"c":10,"v":66},{"r":27,"c":11,"v":63},{"r":27,"c":12,"v":60},{"r":27,"c":13,"v":60},{"r":27,"c":14,"v":63},{"r":27,"c":15,"v":62},{"r":27,"c":16,"v":62},{"r":27,"c":17,"v":67},{"r":27,"c":18,"v":81},{"r":27,"c":19,"v":84},{"r":27,"c":20,"v":87},{"r":27,"c":21,"v":86},{"r":27,"c":22,"v":87},{"r":27,"c":23,"v":89},{"r":27,"c":24,"v":90},{"r":27,"c":25,"v":92},{"r":27,"c":26,"v":93},{"r":27,"c":27,"v":100},{"r":27,"c":28,"v":96},{"r":27,"c":29,"v":59},{"r":27,"c":30,"v":42},{"r":27,"c":31,"v":43},{"r":27,"c":32,"v":44},{"r":27,"c":33,"v":46},{"r":27,"c":34,"v":36},{"r":27,"c":35,"v":37},{"r":27,"c":36,"v":37},{"r":27,"c":37,"v":38},{"r":27,"c":38,"v":38},{"r":27,"c":39,"v":38},{"r":27,"c":40,"v":38},{"r":27,"c":41,"v":38},{"r":27,"c":42,"v":38},{"r":27,"c":43,"v":38},{"r":27,"c":44,"v":38},{"r":27,"c":45,"v":38},{"r":27,"c":46,"v":38},{"r":27,"c":47,"v":38},{"r":27,"c":48,"v":38},
{"r":28,"c":0,"v":54},{"r":28,"c":1,"v":56},{"r":28,"c":2,"v":64},{"r":28,"c":3,"v":63},{"r":28,"c":4,"v":64},{"r":28,"c":5,"v":64},{"r":28,"c":6,"v":63},{"r":28,"c":7,"v":62},{"r":28,"c":8,"v":62},{"r":28,"c":9,"v":63},{"r":28,"c":10,"v":65},{"r":28,"c":11,"v":62},{"r":28,"c":12,"v":59},{"r":28,"c":13,"v":60},{"r":28,"c":14,"v":64},{"r":28,"c":15,"v":63},{"r":28,"c":16,"v":61},{"r":28,"c":17,"v":66},{"r":28,"c":18,"v":81},{"r":28,"c":19,"v":84},{"r":28,"c":20,"v":85},{"r":28,"c":21,"v":84},{"r":28,"c":22,"v":84},{"r":28,"c":23,"v":89},{"r":28,"c":24,"v":85},{"r":28,"c":25,"v":90},{"r":28,"c":26,"v":89},{"r":28,"c":27,"v":90},{"r":28,"c":28,"v":100},{"r":28,"c":29,"v":60},{"r":28,"c":30,"v":41},{"r":28,"c":31,"v":43},{"r":28,"c":32,"v":44},{"r":28,"c":33,"v":45},{"r":28,"c":34,"v":36},{"r":28,"c":35,"v":37},{"r":28,"c":36,"v":37},{"r":28,"c":37,"v":37},{"r":28,"c":38,"v":38},{"r":28,"c":39,"v":38},{"r":28,"c":40,"v":38},{"r":28,"c":41,"v":38},{"r":28,"c":42,"v":38},{"r":28,"c":43,"v":38},{"r":28,"c":44,"v":38},{"r":28,"c":45,"v":38},{"r":28,"c":46,"v":38},{"r":28,"c":47,"v":38},{"r":28,"c":48,"v":38},
{"r":29,"c":0,"v":52},{"r":29,"c":1,"v":55},{"r":29,"c":2,"v":65},{"r":29,"c":3,"v":64},{"r":29,"c":4,"v":64},{"r":29,"c":5,"v":65},{"r":29,"c":6,"v":63},{"r":29,"c":7,"v":63},{"r":29,"c":8,"v":64},{"r":29,"c":9,"v":65},{"r":29,"c":10,"v":70},{"r":29,"c":11,"v":66},{"r":29,"c":12,"v":65},{"r":29,"c":13,"v":61},{"r":29,"c":14,"v":57},{"r":29,"c":15,"v":56},{"r":29,"c":16,"v":63},{"r":29,"c":17,"v":65},{"r":29,"c":18,"v":64},{"r":29,"c":19,"v":63},{"r":29,"c":20,"v":63},{"r":29,"c":21,"v":65},{"r":29,"c":22,"v":65},{"r":29,"c":23,"v":67},{"r":29,"c":24,"v":64},{"r":29,"c":25,"v":65},{"r":29,"c":26,"v":63},{"r":29,"c":27,"v":63},{"r":29,"c":28,"v":63},{"r":29,"c":29,"v":100},{"r":29,"c":30,"v":41},{"r":29,"c":31,"v":44},{"r":29,"c":32,"v":44},{"r":29,"c":33,"v":46},{"r":29,"c":34,"v":37},{"r":29,"c":35,"v":37},{"r":29,"c":36,"v":37},{"r":29,"c":37,"v":37},{"r":29,"c":38,"v":37},{"r":29,"c":39,"v":37},{"r":29,"c":40,"v":37},{"r":29,"c":41,"v":37},{"r":29,"c":42,"v":38},{"r":29,"c":43,"v":38},{"r":29,"c":44,"v":37},{"r":29,"c":45,"v":38},{"r":29,"c":46,"v":38},{"r":29,"c":47,"v":38},{"r":29,"c":48,"v":38},
{"r":30,"c":0,"v":40},{"r":30,"c":1,"v":39},{"r":30,"c":2,"v":42},{"r":30,"c":3,"v":46},{"r":30,"c":4,"v":44},{"r":30,"c":5,"v":44},{"r":30,"c":6,"v":44},{"r":30,"c":7,"v":46},{"r":30,"c":8,"v":45},{"r":30,"c":9,"v":42},{"r":30,"c":10,"v":46},{"r":30,"c":11,"v":44},{"r":30,"c":12,"v":45},{"r":30,"c":13,"v":40},{"r":30,"c":14,"v":44},{"r":30,"c":15,"v":42},{"r":30,"c":16,"v":42},{"r":30,"c":17,"v":39},{"r":30,"c":18,"v":42},{"r":30,"c":19,"v":43},{"r":30,"c":20,"v":44},{"r":30,"c":21,"v":44},{"r":30,"c":22,"v":43},{"r":30,"c":23,"v":43},{"r":30,"c":24,"v":42},{"r":30,"c":25,"v":44},{"r":30,"c":26,"v":43},{"r":30,"c":27,"v":42},{"r":30,"c":28,"v":42},{"r":30,"c":29,"v":46},{"r":30,"c":30,"v":100},{"r":30,"c":31,"v":79},{"r":30,"c":32,"v":60},{"r":30,"c":33,"v":55},{"r":30,"c":34,"v":35},{"r":30,"c":35,"v":35},{"r":30,"c":36,"v":36},{"r":30,"c":37,"v":36},{"r":30,"c":38,"v":36},{"r":30,"c":39,"v":36},{"r":30,"c":40,"v":37},{"r":30,"c":41,"v":37},{"r":30,"c":42,"v":37},{"r":30,"c":43,"v":37},{"r":30,"c":44,"v":37},{"r":30,"c":45,"v":37},{"r":30,"c":46,"v":37},{"r":30,"c":47,"v":37},{"r":30,"c":48,"v":37},
{"r":31,"c":0,"v":41},{"r":31,"c":1,"v":40},{"r":31,"c":2,"v":46},{"r":31,"c":3,"v":49},{"r":31,"c":4,"v":47},{"r":31,"c":5,"v":46},{"r":31,"c":6,"v":48},{"r":31,"c":7,"v":50},{"r":31,"c":8,"v":49},{"r":31,"c":9,"v":45},{"r":31,"c":10,"v":47},{"r":31,"c":11,"v":46},{"r":31,"c":12,"v":47},{"r":31,"c":13,"v":43},{"r":31,"c":14,"v":46},{"r":31,"c":15,"v":44},{"r":31,"c":16,"v":42},{"r":31,"c":17,"v":46},{"r":31,"c":18,"v":44},{"r":31,"c":19,"v":44},{"r":31,"c":20,"v":45},{"r":31,"c":21,"v":45},{"r":31,"c":22,"v":45},{"r":31,"c":23,"v":44},{"r":31,"c":24,"v":44},{"r":31,"c":25,"v":46},{"r":31,"c":26,"v":46},{"r":31,"c":27,"v":45},{"r":31,"c":28,"v":45},{"r":31,"c":29,"v":48},{"r":31,"c":30,"v":72},{"r":31,"c":31,"v":100},{"r":31,"c":32,"v":54},{"r":31,"c":33,"v":56},{"r":31,"c":34,"v":34},{"r":31,"c":35,"v":33},{"r":31,"c":36,"v":35},{"r":31,"c":37,"v":35},{"r":31,"c":38,"v":35},{"r":31,"c":39,"v":36},{"r":31,"c":40,"v":36},{"r":31,"c":41,"v":37},{"r":31,"c":42,"v":37},{"r":31,"c":43,"v":37},{"r":31,"c":44,"v":37},{"r":31,"c":45,"v":37},{"r":31,"c":46,"v":37},{"r":31,"c":47,"v":37},{"r":31,"c":48,"v":37},
{"r":32,"c":0,"v":41},{"r":32,"c":1,"v":42},{"r":32,"c":2,"v":40},{"r":32,"c":3,"v":42},{"r":32,"c":4,"v":41},{"r":32,"c":5,"v":40},{"r":32,"c":6,"v":41},{"r":32,"c":7,"v":41},{"r":32,"c":8,"v":40},{"r":32,"c":9,"v":41},{"r":32,"c":10,"v":46},{"r":32,"c":11,"v":43},{"r":32,"c":12,"v":47},{"r":32,"c":13,"v":41},{"r":32,"c":14,"v":40},{"r":32,"c":15,"v":39},{"r":32,"c":16,"v":39},{"r":32,"c":17,"v":36},{"r":32,"c":18,"v":43},{"r":32,"c":19,"v":44},{"r":32,"c":20,"v":43},{"r":32,"c":21,"v":43},{"r":32,"c":22,"v":44},{"r":32,"c":23,"v":43},{"r":32,"c":24,"v":44},{"r":32,"c":25,"v":43},{"r":32,"c":26,"v":44},{"r":32,"c":27,"v":45},{"r":32,"c":28,"v":42},{"r":32,"c":29,"v":41},{"r":32,"c":30,"v":54},{"r":32,"c":31,"v":54},{"r":32,"c":32,"v":100},{"r":32,"c":33,"v":79},{"r":32,"c":34,"v":37},{"r":32,"c":35,"v":35},{"r":32,"c":36,"v":36},{"r":32,"c":37,"v":36},{"r":32,"c":38,"v":36},{"r":32,"c":39,"v":36},{"r":32,"c":40,"v":37},{"r":32,"c":41,"v":37},{"r":32,"c":42,"v":37},{"r":32,"c":43,"v":37},{"r":32,"c":44,"v":37},{"r":32,"c":45,"v":39},{"r":32,"c":46,"v":38},{"r":32,"c":47,"v":38},{"r":32,"c":48,"v":37},
{"r":33,"c":0,"v":39},{"r":33,"c":1,"v":38},{"r":33,"c":2,"v":39},{"r":33,"c":3,"v":41},{"r":33,"c":4,"v":39},{"r":33,"c":5,"v":39},{"r":33,"c":6,"v":41},{"r":33,"c":7,"v":41},{"r":33,"c":8,"v":40},{"r":33,"c":9,"v":40},{"r":33,"c":10,"v":40},{"r":33,"c":11,"v":43},{"r":33,"c":12,"v":44},{"r":33,"c":13,"v":42},{"r":33,"c":14,"v":41},{"r":33,"c":15,"v":39},{"r":33,"c":16,"v":38},{"r":33,"c":17,"v":35},{"r":33,"c":18,"v":42},{"r":33,"c":19,"v":43},{"r":33,"c":20,"v":41},{"r":33,"c":21,"v":41},{"r":33,"c":22,"v":43},{"r":33,"c":23,"v":42},{"r":33,"c":24,"v":44},{"r":33,"c":25,"v":42},{"r":33,"c":26,"v":44},{"r":33,"c":27,"v":42},{"r":33,"c":28,"v":42},{"r":33,"c":29,"v":42},{"r":33,"c":30,"v":52},{"r":33,"c":31,"v":48},{"r":33,"c":32,"v":62},{"r":33,"c":33,"v":100},{"r":33,"c":34,"v":36},{"r":33,"c":35,"v":35},{"r":33,"c":36,"v":36},{"r":33,"c":37,"v":36},{"r":33,"c":38,"v":36},{"r":33,"c":39,"v":35},{"r":33,"c":40,"v":37},{"r":33,"c":41,"v":37},{"r":33,"c":42,"v":37},{"r":33,"c":43,"v":37},{"r":33,"c":44,"v":37},{"r":33,"c":45,"v":38},{"r":33,"c":46,"v":38},{"r":33,"c":47,"v":38},{"r":33,"c":48,"v":37},
{"r":34,"c":0,"v":46},{"r":34,"c":1,"v":45},{"r":34,"c":2,"v":39},{"r":34,"c":3,"v":37},{"r":34,"c":4,"v":38},{"r":34,"c":5,"v":38},{"r":34,"c":6,"v":39},{"r":34,"c":7,"v":40},{"r":34,"c":8,"v":38},{"r":34,"c":9,"v":34},{"r":34,"c":10,"v":41},{"r":34,"c":11,"v":40},{"r":34,"c":12,"v":38},{"r":34,"c":13,"v":38},{"r":34,"c":14,"v":35},{"r":34,"c":15,"v":39},{"r":34,"c":16,"v":38},{"r":34,"c":17,"v":39},{"r":34,"c":18,"v":41},{"r":34,"c":19,"v":41},{"r":34,"c":20,"v":41},{"r":34,"c":21,"v":41},{"r":34,"c":22,"v":40},{"r":34,"c":23,"v":41},{"r":34,"c":24,"v":39},{"r":34,"c":25,"v":41},{"r":34,"c":26,"v":38},{"r":34,"c":27,"v":41},{"r":34,"c":28,"v":40},{"r":34,"c":29,"v":40},{"r":34,"c":30,"v":44},{"r":34,"c":31,"v":45},{"r":34,"c":32,"v":45},{"r":34,"c":33,"v":42},{"r":34,"c":34,"v":100},{"r":34,"c":35,"v":69},{"r":34,"c":36,"v":36},{"r":34,"c":37,"v":36},{"r":34,"c":38,"v":36},{"r":34,"c":39,"v":37},{"r":34,"c":40,"v":37},{"r":34,"c":41,"v":37},{"r":34,"c":42,"v":37},{"r":34,"c":43,"v":37},{"r":34,"c":44,"v":37},{"r":34,"c":45,"v":37},{"r":34,"c":46,"v":37},{"r":34,"c":47,"v":37},{"r":34,"c":48,"v":35},
{"r":35,"c":0,"v":47},{"r":35,"c":1,"v":47},{"r":35,"c":2,"v":44},{"r":35,"c":3,"v":46},{"r":35,"c":4,"v":45},{"r":35,"c":5,"v":46},{"r":35,"c":6,"v":46},{"r":35,"c":7,"v":46},{"r":35,"c":8,"v":47},{"r":35,"c":9,"v":48},{"r":35,"c":10,"v":48},{"r":35,"c":11,"v":49},{"r":35,"c":12,"v":48},{"r":35,"c":13,"v":48},{"r":35,"c":14,"v":46},{"r":35,"c":15,"v":45},{"r":35,"c":16,"v":47},{"r":35,"c":17,"v":48},{"r":35,"c":18,"v":47},{"r":35,"c":19,"v":47},{"r":35,"c":20,"v":46},{"r":35,"c":21,"v":47},{"r":35,"c":22,"v":48},{"r":35,"c":23,"v":49},{"r":35,"c":24,"v":47},{"r":35,"c":25,"v":47},{"r":35,"c":26,"v":48},{"r":35,"c":27,"v":48},{"r":35,"c":28,"v":46},{"r":35,"c":29,"v":47},{"r":35,"c":30,"v":46},{"r":35,"c":31,"v":47},{"r":35,"c":32,"v":46},{"r":35,"c":33,"v":44},{"r":35,"c":34,"v":65},{"r":35,"c":35,"v":100},{"r":35,"c":36,"v":38},{"r":35,"c":37,"v":38},{"r":35,"c":38,"v":38},{"r":35,"c":39,"v":38},{"r":35,"c":40,"v":38},{"r":35,"c":41,"v":37},{"r":35,"c":42,"v":37},{"r":35,"c":43,"v":38},{"r":35,"c":44,"v":38},{"r":35,"c":45,"v":38},{"r":35,"c":46,"v":38},{"r":35,"c":47,"v":37},{"r":35,"c":48,"v":37},
{"r":36,"c":0,"v":45},{"r":36,"c":1,"v":45},{"r":36,"c":2,"v":41},{"r":36,"c":3,"v":42},{"r":36,"c":4,"v":44},{"r":36,"c":5,"v":43},{"r":36,"c":6,"v":43},{"r":36,"c":7,"v":41},{"r":36,"c":8,"v":43},{"r":36,"c":9,"v":44},{"r":36,"c":10,"v":45},{"r":36,"c":11,"v":42},{"r":36,"c":12,"v":43},{"r":36,"c":13,"v":45},{"r":36,"c":14,"v":42},{"r":36,"c":15,"v":41},{"r":36,"c":16,"v":44},{"r":36,"c":17,"v":45},{"r":36,"c":18,"v":42},{"r":36,"c":19,"v":41},{"r":36,"c":20,"v":42},{"r":36,"c":21,"v":41},{"r":36,"c":22,"v":40},{"r":36,"c":23,"v":41},{"r":36,"c":24,"v":42},{"r":36,"c":25,"v":41},{"r":36,"c":26,"v":40},{"r":36,"c":27,"v":41},{"r":36,"c":28,"v":42},{"r":36,"c":29,"v":46},{"r":36,"c":30,"v":46},{"r":36,"c":31,"v":47},{"r":36,"c":32,"v":45},{"r":36,"c":33,"v":45},{"r":36,"c":34,"v":49},{"r":36,"c":35,"v":50},{"r":36,"c":36,"v":100},{"r":36,"c":37,"v":87},{"r":36,"c":38,"v":87},{"r":36,"c":39,"v":74},{"r":36,"c":40,"v":37},{"r":36,"c":41,"v":37},{"r":36,"c":42,"v":38},{"r":36,"c":43,"v":37},{"r":36,"c":44,"v":36},{"r":36,"c":45,"v":36},{"r":36,"c":46,"v":36},{"r":36,"c":47,"v":37},{"r":36,"c":48,"v":37},
{"r":37,"c":0,"v":45},{"r":37,"c":1,"v":46},{"r":37,"c":2,"v":43},{"r":37,"c":3,"v":44},{"r":37,"c":4,"v":44},{"r":37,"c":5,"v":43},{"r":37,"c":6,"v":44},{"r":37,"c":7,"v":44},{"r":37,"c":8,"v":43},{"r":37,"c":9,"v":43},{"r":37,"c":10,"v":44},{"r":37,"c":11,"v":42},{"r":37,"c":12,"v":43},{"r":37,"c":13,"v":44},{"r":37,"c":14,"v":42},{"r":37,"c":15,"v":43},{"r":37,"c":16,"v":44},{"r":37,"c":17,"v":44},{"r":37,"c":18,"v":42},{"r":37,"c":19,"v":41},{"r":37,"c":20,"v":40},{"r":37,"c":21,"v":41},{"r":37,"c":22,"v":41},{"r":37,"c":23,"v":39},{"r":37,"c":24,"v":41},{"r":37,"c":25,"v":40},{"r":37,"c":26,"v":41},{"r":37,"c":27,"v":41},{"r":37,"c":28,"v":42},{"r":37,"c":29,"v":44},{"r":37,"c":30,"v":47},{"r":37,"c":31,"v":49},{"r":37,"c":32,"v":45},{"r":37,"c":33,"v":44},{"r":37,"c":34,"v":48},{"r":37,"c":35,"v":50},{"r":37,"c":36,"v":90},{"r":37,"c":37,"v":100},{"r":37,"c":38,"v":89},{"r":37,"c":39,"v":75},{"r":37,"c":40,"v":37},{"r":37,"c":41,"v":37},{"r":37,"c":42,"v":38},{"r":37,"c":43,"v":37},{"r":37,"c":44,"v":36},{"r":37,"c":45,"v":36},{"r":37,"c":46,"v":36},{"r":37,"c":47,"v":37},{"r":37,"c":48,"v":37},
{"r":38,"c":0,"v":45},{"r":38,"c":1,"v":47},{"r":38,"c":2,"v":43},{"r":38,"c":3,"v":44},{"r":38,"c":4,"v":44},{"r":38,"c":5,"v":44},{"r":38,"c":6,"v":45},{"r":38,"c":7,"v":44},{"r":38,"c":8,"v":41},{"r":38,"c":9,"v":43},{"r":38,"c":10,"v":44},{"r":38,"c":11,"v":43},{"r":38,"c":12,"v":43},{"r":38,"c":13,"v":44},{"r":38,"c":14,"v":42},{"r":38,"c":15,"v":42},{"r":38,"c":16,"v":43},{"r":38,"c":17,"v":43},{"r":38,"c":18,"v":42},{"r":38,"c":19,"v":41},{"r":38,"c":20,"v":40},{"r":38,"c":21,"v":41},{"r":38,"c":22,"v":42},{"r":38,"c":23,"v":41},{"r":38,"c":24,"v":41},{"r":38,"c":25,"v":40},{"r":38,"c":26,"v":41},{"r":38,"c":27,"v":41},{"r":38,"c":28,"v":42},{"r":38,"c":29,"v":44},{"r":38,"c":30,"v":45},{"r":38,"c":31,"v":48},{"r":38,"c":32,"v":45},{"r":38,"c":33,"v":44},{"r":38,"c":34,"v":48},{"r":38,"c":35,"v":50},{"r":38,"c":36,"v":90},{"r":38,"c":37,"v":92},{"r":38,"c":38,"v":100},{"r":38,"c":39,"v":77},{"r":38,"c":40,"v":37},{"r":38,"c":41,"v":37},{"r":38,"c":42,"v":37},{"r":38,"c":43,"v":37},{"r":38,"c":44,"v":37},{"r":38,"c":45,"v":37},{"r":38,"c":46,"v":37},{"r":38,"c":47,"v":37},{"r":38,"c":48,"v":37},
{"r":39,"c":0,"v":43},{"r":39,"c":1,"v":43},{"r":39,"c":2,"v":45},{"r":39,"c":3,"v":46},{"r":39,"c":4,"v":47},{"r":39,"c":5,"v":45},{"r":39,"c":6,"v":45},{"r":39,"c":7,"v":44},{"r":39,"c":8,"v":40},{"r":39,"c":9,"v":44},{"r":39,"c":10,"v":43},{"r":39,"c":11,"v":42},{"r":39,"c":12,"v":45},{"r":39,"c":13,"v":45},{"r":39,"c":14,"v":45},{"r":39,"c":15,"v":46},{"r":39,"c":16,"v":45},{"r":39,"c":17,"v":44},{"r":39,"c":18,"v":44},{"r":39,"c":19,"v":43},{"r":39,"c":20,"v":44},{"r":39,"c":21,"v":44},{"r":39,"c":22,"v":44},{"r":39,"c":23,"v":45},{"r":39,"c":24,"v":44},{"r":39,"c":25,"v":45},{"r":39,"c":26,"v":45},{"r":39,"c":27,"v":46},{"r":39,"c":28,"v":46},{"r":39,"c":29,"v":42},{"r":39,"c":30,"v":49},{"r":39,"c":31,"v":47},{"r":39,"c":32,"v":45},{"r":39,"c":33,"v":46},{"r":39,"c":34,"v":47},{"r":39,"c":35,"v":49},{"r":39,"c":36,"v":74},{"r":39,"c":37,"v":73},{"r":39,"c":38,"v":73},{"r":39,"c":39,"v":100},{"r":39,"c":40,"v":37},{"r":39,"c":41,"v":37},{"r":39,"c":42,"v":38},{"r":39,"c":43,"v":37},{"r":39,"c":44,"v":36},{"r":39,"c":45,"v":37},{"r":39,"c":46,"v":37},{"r":39,"c":47,"v":37},{"r":39,"c":48,"v":37},
{"r":40,"c":0,"v":47},{"r":40,"c":1,"v":47},{"r":40,"c":2,"v":45},{"r":40,"c":3,"v":46},{"r":40,"c":4,"v":45},{"r":40,"c":5,"v":44},{"r":40,"c":6,"v":44},{"r":40,"c":7,"v":45},{"r":40,"c":8,"v":46},{"r":40,"c":9,"v":45},{"r":40,"c":10,"v":46},{"r":40,"c":11,"v":43},{"r":40,"c":12,"v":48},{"r":40,"c":13,"v":46},{"r":40,"c":14,"v":44},{"r":40,"c":15,"v":43},{"r":40,"c":16,"v":50},{"r":40,"c":17,"v":47},{"r":40,"c":18,"v":46},{"r":40,"c":19,"v":45},{"r":40,"c":20,"v":46},{"r":40,"c":21,"v":46},{"r":40,"c":22,"v":45},{"r":40,"c":23,"v":44},{"r":40,"c":24,"v":45},{"r":40,"c":25,"v":46},{"r":40,"c":26,"v":46},{"r":40,"c":27,"v":45},{"r":40,"c":28,"v":46},{"r":40,"c":29,"v":46},{"r":40,"c":30,"v":44},{"r":40,"c":31,"v":46},{"r":40,"c":32,"v":44},{"r":40,"c":33,"v":41},{"r":40,"c":34,"v":47},{"r":40,"c":35,"v":50},{"r":40,"c":36,"v":46},{"r":40,"c":37,"v":47},{"r":40,"c":38,"v":47},{"r":40,"c":39,"v":44},{"r":40,"c":40,"v":100},{"r":40,"c":41,"v":90},{"r":40,"c":42,"v":91},{"r":40,"c":43,"v":89},{"r":40,"c":44,"v":56},{"r":40,"c":45,"v":54},{"r":40,"c":46,"v":55},{"r":40,"c":47,"v":72},{"r":40,"c":48,"v":36},
{"r":41,"c":0,"v":46},{"r":41,"c":1,"v":47},{"r":41,"c":2,"v":45},{"r":41,"c":3,"v":45},{"r":41,"c":4,"v":45},{"r":41,"c":5,"v":46},{"r":41,"c":6,"v":41},{"r":41,"c":7,"v":45},{"r":41,"c":8,"v":47},{"r":41,"c":9,"v":47},{"r":41,"c":10,"v":47},{"r":41,"c":11,"v":45},{"r":41,"c":12,"v":48},{"r":41,"c":13,"v":46},{"r":41,"c":14,"v":44},{"r":41,"c":15,"v":42},{"r":41,"c":16,"v":51},{"r":41,"c":17,"v":48},{"r":41,"c":18,"v":47},{"r":41,"c":19,"v":46},{"r":41,"c":20,"v":46},{"r":41,"c":21,"v":47},{"r":41,"c":22,"v":46},{"r":41,"c":23,"v":45},{"r":41,"c":24,"v":46},{"r":41,"c":25,"v":46},{"r":41,"c":26,"v":47},{"r":41,"c":27,"v":46},{"r":41,"c":28,"v":47},{"r":41,"c":29,"v":46},{"r":41,"c":30,"v":40},{"r":41,"c":31,"v":45},{"r":41,"c":32,"v":44},{"r":41,"c":33,"v":41},{"r":41,"c":34,"v":46},{"r":41,"c":35,"v":51},{"r":41,"c":36,"v":46},{"r":41,"c":37,"v":47},{"r":41,"c":38,"v":46},{"r":41,"c":39,"v":47},{"r":41,"c":40,"v":89},{"r":41,"c":41,"v":100},{"r":41,"c":42,"v":91},{"r":41,"c":43,"v":89},{"r":41,"c":44,"v":55},{"r":41,"c":45,"v":54},{"r":41,"c":46,"v":55},{"r":41,"c":47,"v":72},{"r":41,"c":48,"v":36},
{"r":42,"c":0,"v":47},{"r":42,"c":1,"v":47},{"r":42,"c":2,"v":46},{"r":42,"c":3,"v":46},{"r":42,"c":4,"v":45},{"r":42,"c":5,"v":45},{"r":42,"c":6,"v":44},{"r":42,"c":7,"v":48},{"r":42,"c":8,"v":47},{"r":42,"c":9,"v":47},{"r":42,"c":10,"v":47},{"r":42,"c":11,"v":44},{"r":42,"c":12,"v":48},{"r":42,"c":13,"v":46},{"r":42,"c":14,"v":44},{"r":42,"c":15,"v":43},{"r":42,"c":16,"v":50},{"r":42,"c":17,"v":47},{"r":42,"c":18,"v":46},{"r":42,"c":19,"v":46},{"r":42,"c":20,"v":45},{"r":42,"c":21,"v":44},{"r":42,"c":22,"v":45},{"r":42,"c":23,"v":45},{"r":42,"c":24,"v":46},{"r":42,"c":25,"v":46},{"r":42,"c":26,"v":46},{"r":42,"c":27,"v":46},{"r":42,"c":28,"v":47},{"r":42,"c":29,"v":49},{"r":42,"c":30,"v":41},{"r":42,"c":31,"v":47},{"r":42,"c":32,"v":46},{"r":42,"c":33,"v":40},{"r":42,"c":34,"v":47},{"r":42,"c":35,"v":52},{"r":42,"c":36,"v":47},{"r":42,"c":37,"v":48},{"r":42,"c":38,"v":46},{"r":42,"c":39,"v":45},{"r":42,"c":40,"v":88},{"r":42,"c":41,"v":91},{"r":42,"c":42,"v":100},{"r":42,"c":43,"v":90},{"r":42,"c":44,"v":56},{"r":42,"c":45,"v":54},{"r":42,"c":46,"v":55},{"r":42,"c":47,"v":74},{"r":42,"c":48,"v":36},
{"r":43,"c":0,"v":48},{"r":43,"c":1,"v":48},{"r":43,"c":2,"v":47},{"r":43,"c":3,"v":47},{"r":43,"c":4,"v":47},{"r":43,"c":5,"v":46},{"r":43,"c":6,"v":45},{"r":43,"c":7,"v":49},{"r":43,"c":8,"v":48},{"r":43,"c":9,"v":48},{"r":43,"c":10,"v":49},{"r":43,"c":11,"v":44},{"r":43,"c":12,"v":48},{"r":43,"c":13,"v":46},{"r":43,"c":14,"v":44},{"r":43,"c":15,"v":43},{"r":43,"c":16,"v":51},{"r":43,"c":17,"v":48},{"r":43,"c":18,"v":47},{"r":43,"c":19,"v":47},{"r":43,"c":20,"v":47},{"r":43,"c":21,"v":46},{"r":43,"c":22,"v":46},{"r":43,"c":23,"v":45},{"r":43,"c":24,"v":45},{"r":43,"c":25,"v":46},{"r":43,"c":26,"v":46},{"r":43,"c":27,"v":46},{"r":43,"c":28,"v":47},{"r":43,"c":29,"v":48},{"r":43,"c":30,"v":41},{"r":43,"c":31,"v":47},{"r":43,"c":32,"v":46},{"r":43,"c":33,"v":40},{"r":43,"c":34,"v":49},{"r":43,"c":35,"v":52},{"r":43,"c":36,"v":44},{"r":43,"c":37,"v":46},{"r":43,"c":38,"v":44},{"r":43,"c":39,"v":45},{"r":43,"c":40,"v":89},{"r":43,"c":41,"v":90},{"r":43,"c":42,"v":91},{"r":43,"c":43,"v":100},{"r":43,"c":44,"v":56},{"r":43,"c":45,"v":54},{"r":43,"c":46,"v":55},{"r":43,"c":47,"v":74},{"r":43,"c":48,"v":36},
{"r":44,"c":0,"v":45},{"r":44,"c":1,"v":45},{"r":44,"c":2,"v":47},{"r":44,"c":3,"v":46},{"r":44,"c":4,"v":46},{"r":44,"c":5,"v":46},{"r":44,"c":6,"v":46},{"r":44,"c":7,"v":45},{"r":44,"c":8,"v":45},{"r":44,"c":9,"v":46},{"r":44,"c":10,"v":47},{"r":44,"c":11,"v":44},{"r":44,"c":12,"v":49},{"r":44,"c":13,"v":47},{"r":44,"c":14,"v":43},{"r":44,"c":15,"v":45},{"r":44,"c":16,"v":51},{"r":44,"c":17,"v":48},{"r":44,"c":18,"v":47},{"r":44,"c":19,"v":47},{"r":44,"c":20,"v":47},{"r":44,"c":21,"v":48},{"r":44,"c":22,"v":47},{"r":44,"c":23,"v":47},{"r":44,"c":24,"v":47},{"r":44,"c":25,"v":47},{"r":44,"c":26,"v":47},{"r":44,"c":27,"v":46},{"r":44,"c":28,"v":47},{"r":44,"c":29,"v":46},{"r":44,"c":30,"v":41},{"r":44,"c":31,"v":45},{"r":44,"c":32,"v":46},{"r":44,"c":33,"v":43},{"r":44,"c":34,"v":47},{"r":44,"c":35,"v":51},{"r":44,"c":36,"v":46},{"r":44,"c":37,"v":47},{"r":44,"c":38,"v":46},{"r":44,"c":39,"v":44},{"r":44,"c":40,"v":78},{"r":44,"c":41,"v":76},{"r":44,"c":42,"v":78},{"r":44,"c":43,"v":78},{"r":44,"c":44,"v":100},{"r":44,"c":45,"v":86},{"r":44,"c":46,"v":86},{"r":44,"c":47,"v":58},{"r":44,"c":48,"v":36},
{"r":45,"c":0,"v":43},{"r":45,"c":1,"v":43},{"r":45,"c":2,"v":41},{"r":45,"c":3,"v":44},{"r":45,"c":4,"v":45},{"r":45,"c":5,"v":44},{"r":45,"c":6,"v":42},{"r":45,"c":7,"v":40},{"r":45,"c":8,"v":44},{"r":45,"c":9,"v":46},{"r":45,"c":10,"v":46},{"r":45,"c":11,"v":43},{"r":45,"c":12,"v":46},{"r":45,"c":13,"v":41},{"r":45,"c":14,"v":43},{"r":45,"c":15,"v":42},{"r":45,"c":16,"v":49},{"r":45,"c":17,"v":47},{"r":45,"c":18,"v":45},{"r":45,"c":19,"v":46},{"r":45,"c":20,"v":45},{"r":45,"c":21,"v":45},{"r":45,"c":22,"v":44},{"r":45,"c":23,"v":45},{"r":45,"c":24,"v":44},{"r":45,"c":25,"v":45},{"r":45,"c":26,"v":45},{"r":45,"c":27,"v":42},{"r":45,"c":28,"v":44},{"r":45,"c":29,"v":42},{"r":45,"c":30,"v":44},{"r":45,"c":31,"v":44},{"r":45,"c":32,"v":43},{"r":45,"c":33,"v":46},{"r":45,"c":34,"v":46},{"r":45,"c":35,"v":49},{"r":45,"c":36,"v":48},{"r":45,"c":37,"v":49},{"r":45,"c":38,"v":48},{"r":45,"c":39,"v":45},{"r":45,"c":40,"v":68},{"r":45,"c":41,"v":67},{"r":45,"c":42,"v":68},{"r":45,"c":43,"v":67},{"r":45,"c":44,"v":75},{"r":45,"c":45,"v":100},{"r":45,"c":46,"v":90},{"r":45,"c":47,"v":57},{"r":45,"c":48,"v":35},
{"r":46,"c":0,"v":47},{"r":46,"c":1,"v":47},{"r":46,"c":2,"v":48},{"r":46,"c":3,"v":47},{"r":46,"c":4,"v":47},{"r":46,"c":5,"v":46},{"r":46,"c":6,"v":45},{"r":46,"c":7,"v":47},{"r":46,"c":8,"v":48},{"r":46,"c":9,"v":47},{"r":46,"c":10,"v":47},{"r":46,"c":11,"v":43},{"r":46,"c":12,"v":47},{"r":46,"c":13,"v":44},{"r":46,"c":14,"v":41},{"r":46,"c":15,"v":44},{"r":46,"c":16,"v":51},{"r":46,"c":17,"v":49},{"r":46,"c":18,"v":51},{"r":46,"c":19,"v":50},{"r":46,"c":20,"v":48},{"r":46,"c":21,"v":47},{"r":46,"c":22,"v":49},{"r":46,"c":23,"v":48},{"r":46,"c":24,"v":51},{"r":46,"c":25,"v":47},{"r":46,"c":26,"v":51},{"r":46,"c":27,"v":48},{"r":46,"c":28,"v":49},{"r":46,"c":29,"v":46},{"r":46,"c":30,"v":45},{"r":46,"c":31,"v":45},{"r":46,"c":32,"v":46},{"r":46,"c":33,"v":43},{"r":46,"c":34,"v":45},{"r":46,"c":35,"v":47},{"r":46,"c":36,"v":50},{"r":46,"c":37,"v":51},{"r":46,"c":38,"v":52},{"r":46,"c":39,"v":49},{"r":46,"c":40,"v":72},{"r":46,"c":41,"v":71},{"r":46,"c":42,"v":72},{"r":46,"c":43,"v":71},{"r":46,"c":44,"v":76},{"r":46,"c":45,"v":78},{"r":46,"c":46,"v":100},{"r":46,"c":47,"v":58},{"r":46,"c":48,"v":36},
{"r":47,"c":0,"v":47},{"r":47,"c":1,"v":47},{"r":47,"c":2,"v":46},{"r":47,"c":3,"v":46},{"r":47,"c":4,"v":46},{"r":47,"c":5,"v":44},{"r":47,"c":6,"v":46},{"r":47,"c":7,"v":46},{"r":47,"c":8,"v":47},{"r":47,"c":9,"v":45},{"r":47,"c":10,"v":46},{"r":47,"c":11,"v":43},{"r":47,"c":12,"v":45},{"r":47,"c":13,"v":46},{"r":47,"c":14,"v":43},{"r":47,"c":15,"v":46},{"r":47,"c":16,"v":48},{"r":47,"c":17,"v":47},{"r":47,"c":18,"v":49},{"r":47,"c":19,"v":51},{"r":47,"c":20,"v":47},{"r":47,"c":21,"v":45},{"r":47,"c":22,"v":48},{"r":47,"c":23,"v":47},{"r":47,"c":24,"v":50},{"r":47,"c":25,"v":47},{"r":47,"c":26,"v":51},{"r":47,"c":27,"v":49},{"r":47,"c":28,"v":47},{"r":47,"c":29,"v":46},{"r":47,"c":30,"v":45},{"r":47,"c":31,"v":49},{"r":47,"c":32,"v":44},{"r":47,"c":33,"v":42},{"r":47,"c":34,"v":46},{"r":47,"c":35,"v":47},{"r":47,"c":36,"v":50},{"r":47,"c":37,"v":51},{"r":47,"c":38,"v":52},{"r":47,"c":39,"v":50},{"r":47,"c":40,"v":66},{"r":47,"c":41,"v":65},{"r":47,"c":42,"v":67},{"r":47,"c":43,"v":67},{"r":47,"c":44,"v":72},{"r":47,"c":45,"v":73},{"r":47,"c":46,"v":80},{"r":47,"c":47,"v":100},{"r":47,"c":48,"v":40},
{"r":48,"c":0,"v":34},{"r":48,"c":1,"v":33},{"r":48,"c":2,"v":33},{"r":48,"c":3,"v":34},{"r":48,"c":4,"v":33},{"r":48,"c":5,"v":34},{"r":48,"c":6,"v":33},{"r":48,"c":7,"v":33},{"r":48,"c":8,"v":32},{"r":48,"c":9,"v":33},{"r":48,"c":10,"v":33},{"r":48,"c":11,"v":32},{"r":48,"c":12,"v":33},{"r":48,"c":13,"v":33},{"r":48,"c":14,"v":32},{"r":48,"c":15,"v":30},{"r":48,"c":16,"v":33},{"r":48,"c":17,"v":33},{"r":48,"c":18,"v":33},{"r":48,"c":19,"v":33},{"r":48,"c":20,"v":34},{"r":48,"c":21,"v":33},{"r":48,"c":22,"v":34},{"r":48,"c":23,"v":32},{"r":48,"c":24,"v":33},{"r":48,"c":25,"v":33},{"r":48,"c":26,"v":33},{"r":48,"c":27,"v":33},{"r":48,"c":28,"v":34},{"r":48,"c":29,"v":34},{"r":48,"c":30,"v":34},{"r":48,"c":31,"v":33},{"r":48,"c":32,"v":33},{"r":48,"c":33,"v":33},{"r":48,"c":34,"v":34},{"r":48,"c":35,"v":34},{"r":48,"c":36,"v":34},{"r":48,"c":37,"v":34},{"r":48,"c":38,"v":34},{"r":48,"c":39,"v":34},{"r":48,"c":40,"v":36},{"r":48,"c":41,"v":36},{"r":48,"c":42,"v":37},{"r":48,"c":43,"v":37},{"r":48,"c":44,"v":36},{"r":48,"c":45,"v":36},{"r":48,"c":46,"v":36},{"r":48,"c":47,"v":37},{"r":48,"c":48,"v":100}
]},"resolve":{"scale":{"x":"independent","y":"independent","color":"independent"},"axis":{"x":"independent","y":"independent"}},"layer":[{"data":{"values":[{"px":-5.07,"top":-5.1,"bot":-5.1},{"px":0,"top":-5.1,"bot":0},{"px":49,"top":-5.1,"bot":0},{"px":49,"top":-5.1,"bot":49},{"px":50.33,"top":-5.1,"bot":49}]},"mark":{"type":"area","color":"#e2e2e2","clip":false,"opacity":1},"encoding":{"x":{"field":"px","type":"quantitative","scale":{"domain":[0,49],"nice":false,"zero":false},"axis":null},"y":{"field":"top","type":"quantitative","scale":{"domain":[49,0],"nice":false,"zero":false},"axis":null},"y2":{"field":"bot"}}},{"data":{"name":"cells"},"mark":{"type":"rect","stroke":"#161616","strokeWidth":0.9},"encoding":{"x":{"field":"c","type":"ordinal","scale":{"paddingInner":0,"paddingOuter":0},"axis":null},"y":{"field":"r","type":"ordinal","scale":{"paddingInner":0,"paddingOuter":0},"axis":{"zindex":1,"title":"Rep","titleX":-77,"titleY":-35,"titleAngle":270,"titleFontSize":22,"titleFontWeight":"bold","titleColor":"#222","titleAlign":"center","titleBaseline":"middle","labelPadding":5,"labelFontSize":{"expr":"datum.value<2?13:12.5"},"labelFontWeight":{"expr":"datum.value<2?'bold':'normal'"},"labelColor":"#2a2a2a","labelOverlap":false,"labelBound":false,"labelExpr":"['JQ624879','JQ624830','PanSV-I GQ415401','PanSV-A L39638','PanSV-H GQ415397','PanSV-C EU224264','PanSV-E GQ415389','PanSV-B X60168','PanSV-D EU224265','PanSV-G GQ415396','SSEV AF239159','SSRV-A AF072672','SSRV-B EU244916','ESV EU244915','SSV-A M82918','SSV-B EU244914','SacSV GQ273988','USV EU445697','MSV-A Y00514','MSV-H EU628638','MSV-F EU628629','MSV-G EU628631','MSV-B EU628597','MSV-I EU628639','MSV-E EU628626','MSV-J EU628641','MSV-K EU628643','MSV-D AF329889','MSV-C AF007881','DSV M23022','PSMV JF905486','BCSMV HQ113104','DDSMV HM122238','CSMV M20021','MiSV E02258','EMSV JF508490','WDV AM040732','BDV-B FJ620684','BDV-A  AM922261','ODV AM296025','CpCDSYV  FR687959','BeYDV AM849096','CpCDSDV AM933134','CpCDPKV AM900416','TbYDV M81103','CpCV-B GU256531','CpCV-A GU256530','CpRV GU256532','ECSV FJ665630'][datum.value]"}},"color":{"field":"v","type":"quantitative","scale":{"domain":[27,30,33,37,40,42,44,47,50,52,54,57,60,62,65,67,70,72,74,76,78,80,82,85,87,90,92,94,97,100],"range":["#3a2a90","#2f35a0","#2f3a9f","#2f45a5","#3150aa","#3d66b5","#447fc3","#4f9bd2","#5bb8dd","#6ccfe0","#8fe0d0","#80dcb4","#85dca8","#8fdd8f","#a4e078","#b8e060","#d6e34a","#ece63a","#f6e025","#ffd10a","#fcb01c","#f78e20","#f47a20","#ef5a20","#e8421f","#e03225","#d0231b","#b01c15","#8f1710","#7a1510"],"interpolate":"rgb"},"legend":{"orient":"none","legendX":765,"legendY":0,"title":null,"direction":"vertical","gradientLength":729,"gradientThickness":27,"gradientStrokeColor":"#2a1a14","gradientStrokeWidth":1,"labelExpr":"''","tickCount":8}}}},{"data":{"name":"cells"},"mark":{"type":"point","shape":"M-0.5,-0.5L0.5,0.5","filled":false,"stroke":"#ffffff","strokeWidth":0.6,"opacity":0.4,"size":196},"encoding":{"x":{"field":"c","type":"ordinal","scale":{"paddingInner":0,"paddingOuter":0},"axis":null},"y":{"field":"r","type":"ordinal","scale":{"paddingInner":0,"paddingOuter":0},"axis":null}}},{"data":{"values":[{"i":0},{"i":1},{"i":2},{"i":3},{"i":4},{"i":5},{"i":6},{"i":7},{"i":8},{"i":9},{"i":10},{"i":11},{"i":12},{"i":13},{"i":14},{"i":15},{"i":16},{"i":17},{"i":18},{"i":19},{"i":20},{"i":21},{"i":22},{"i":23},{"i":24},{"i":25},{"i":26},{"i":27},{"i":28},{"i":29},{"i":30},{"i":31},{"i":32},{"i":33},{"i":34},{"i":35},{"i":36},{"i":37},{"i":38},{"i":39},{"i":40},{"i":41},{"i":42},{"i":43},{"i":44},{"i":45},{"i":46},{"i":47},{"i":48},{"i":49}]},"mark":{"type":"point","opacity":0},"encoding":{"x":{"field":"i","type":"ordinal","scale":{"paddingInner":0,"paddingOuter":0},"axis":{"zindex":1,"orient":"top","title":"CP","titleX":-27,"titleY":-60,"titleFontSize":22,"titleFontWeight":"bold","titleColor":"#222","titleAlign":"center","titleBaseline":"middle","labelAngle":270,"labelPadding":5,"labelOffset":2.5,"labelFontSize":12,"labelFontWeight":{"expr":"datum.value<2?'bold':'normal'"},"labelColor":"#2a2a2a","labelOverlap":false,"labelBound":false,"labelExpr":"['JQ624879','JQ624880','GQ415401','L39638','GQ415396','EU224264','GQ415389','X60168','EU224265','GQ415397','GQ273988','EU445697','M23022','AF072672','EU244916','EU244915','M82918','EU244914','AF239159','Y00514','EU628597','EU628638','EU628629','EU628631','EU628641','EU628626','EU628639','EU628643','AF329889','AF007881','JF905486','HQ113104','HM122238','M20021','AM040732','FJ620684','AM922261','AM296025','E02258','JF508490','FJ665630','FR687959','AM849096','AM933134','AM900416','GU256532','GU256530','M81103','GU256531','FJ665630'][datum.value]"}}}},{"data":{"values":[{"lab":"MSRV","r":0},{"lab":"MSRV","r":1}]},"mark":{"type":"point","opacity":0},"encoding":{"y":{"field":"r","type":"ordinal","scale":{"domain":[0,1,2,3,4,5,6,7,8,9,10,11,12,13,14,15,16,17,18,19,20,21,22,23,24,25,26,27,28,29,30,31,32,33,34,35,36,37,38,39,40,41,42,43,44,45,46,47,48],"paddingInner":0,"paddingOuter":0},"axis":{"zindex":1,"orient":"left","title":null,"values":[0,1],"labelExpr":"'MSRV'","labelPadding":79,"labelFontSize":11.5,"labelFontWeight":"bold","labelColor":"#2a2a2a"}}}},{"data":{"values":[{"tick":100},{"tick":90},{"tick":80},{"tick":70},{"tick":60},{"tick":50},{"tick":40},{"tick":30}]},"mark":{"type":"point","opacity":0},"encoding":{"y":{"field":"tick","type":"quantitative","scale":{"domain":[27,100],"nice":false,"zero":false},"axis":{"zindex":1,"orient":"right","offset":47,"values":[30,40,50,60,70,80,90,100],"ticks":true,"tickSize":-5,"tickColor":"#2a1a14","title":"Percentage pairwise amino acid identity","titleX":-38,"titleY":341,"titleAngle":270,"titleAlign":"center","titleBaseline":"middle","titleFontSize":17.5,"titleFontWeight":"normal","titleColor":"#222","labelFontSize":16.5,"labelColor":"#222","labelPadding":16,"labelOverlap":false,"labelBound":false}}}},{"data":{"values":[{"tick":100},{"tick":90},{"tick":80},{"tick":70},{"tick":60},{"tick":50},{"tick":40},{"tick":30}]},"mark":{"type":"point","opacity":0},"encoding":{"y":{"field":"tick","type":"quantitative","scale":{"domain":[27,100],"nice":false,"zero":false},"axis":{"zindex":1,"orient":"right","offset":20,"values":[30,40,50,60,70,80,90,100],"ticks":true,"tickSize":5,"tickColor":"#2a1a14","labels":false,"title":null}}}}]}
